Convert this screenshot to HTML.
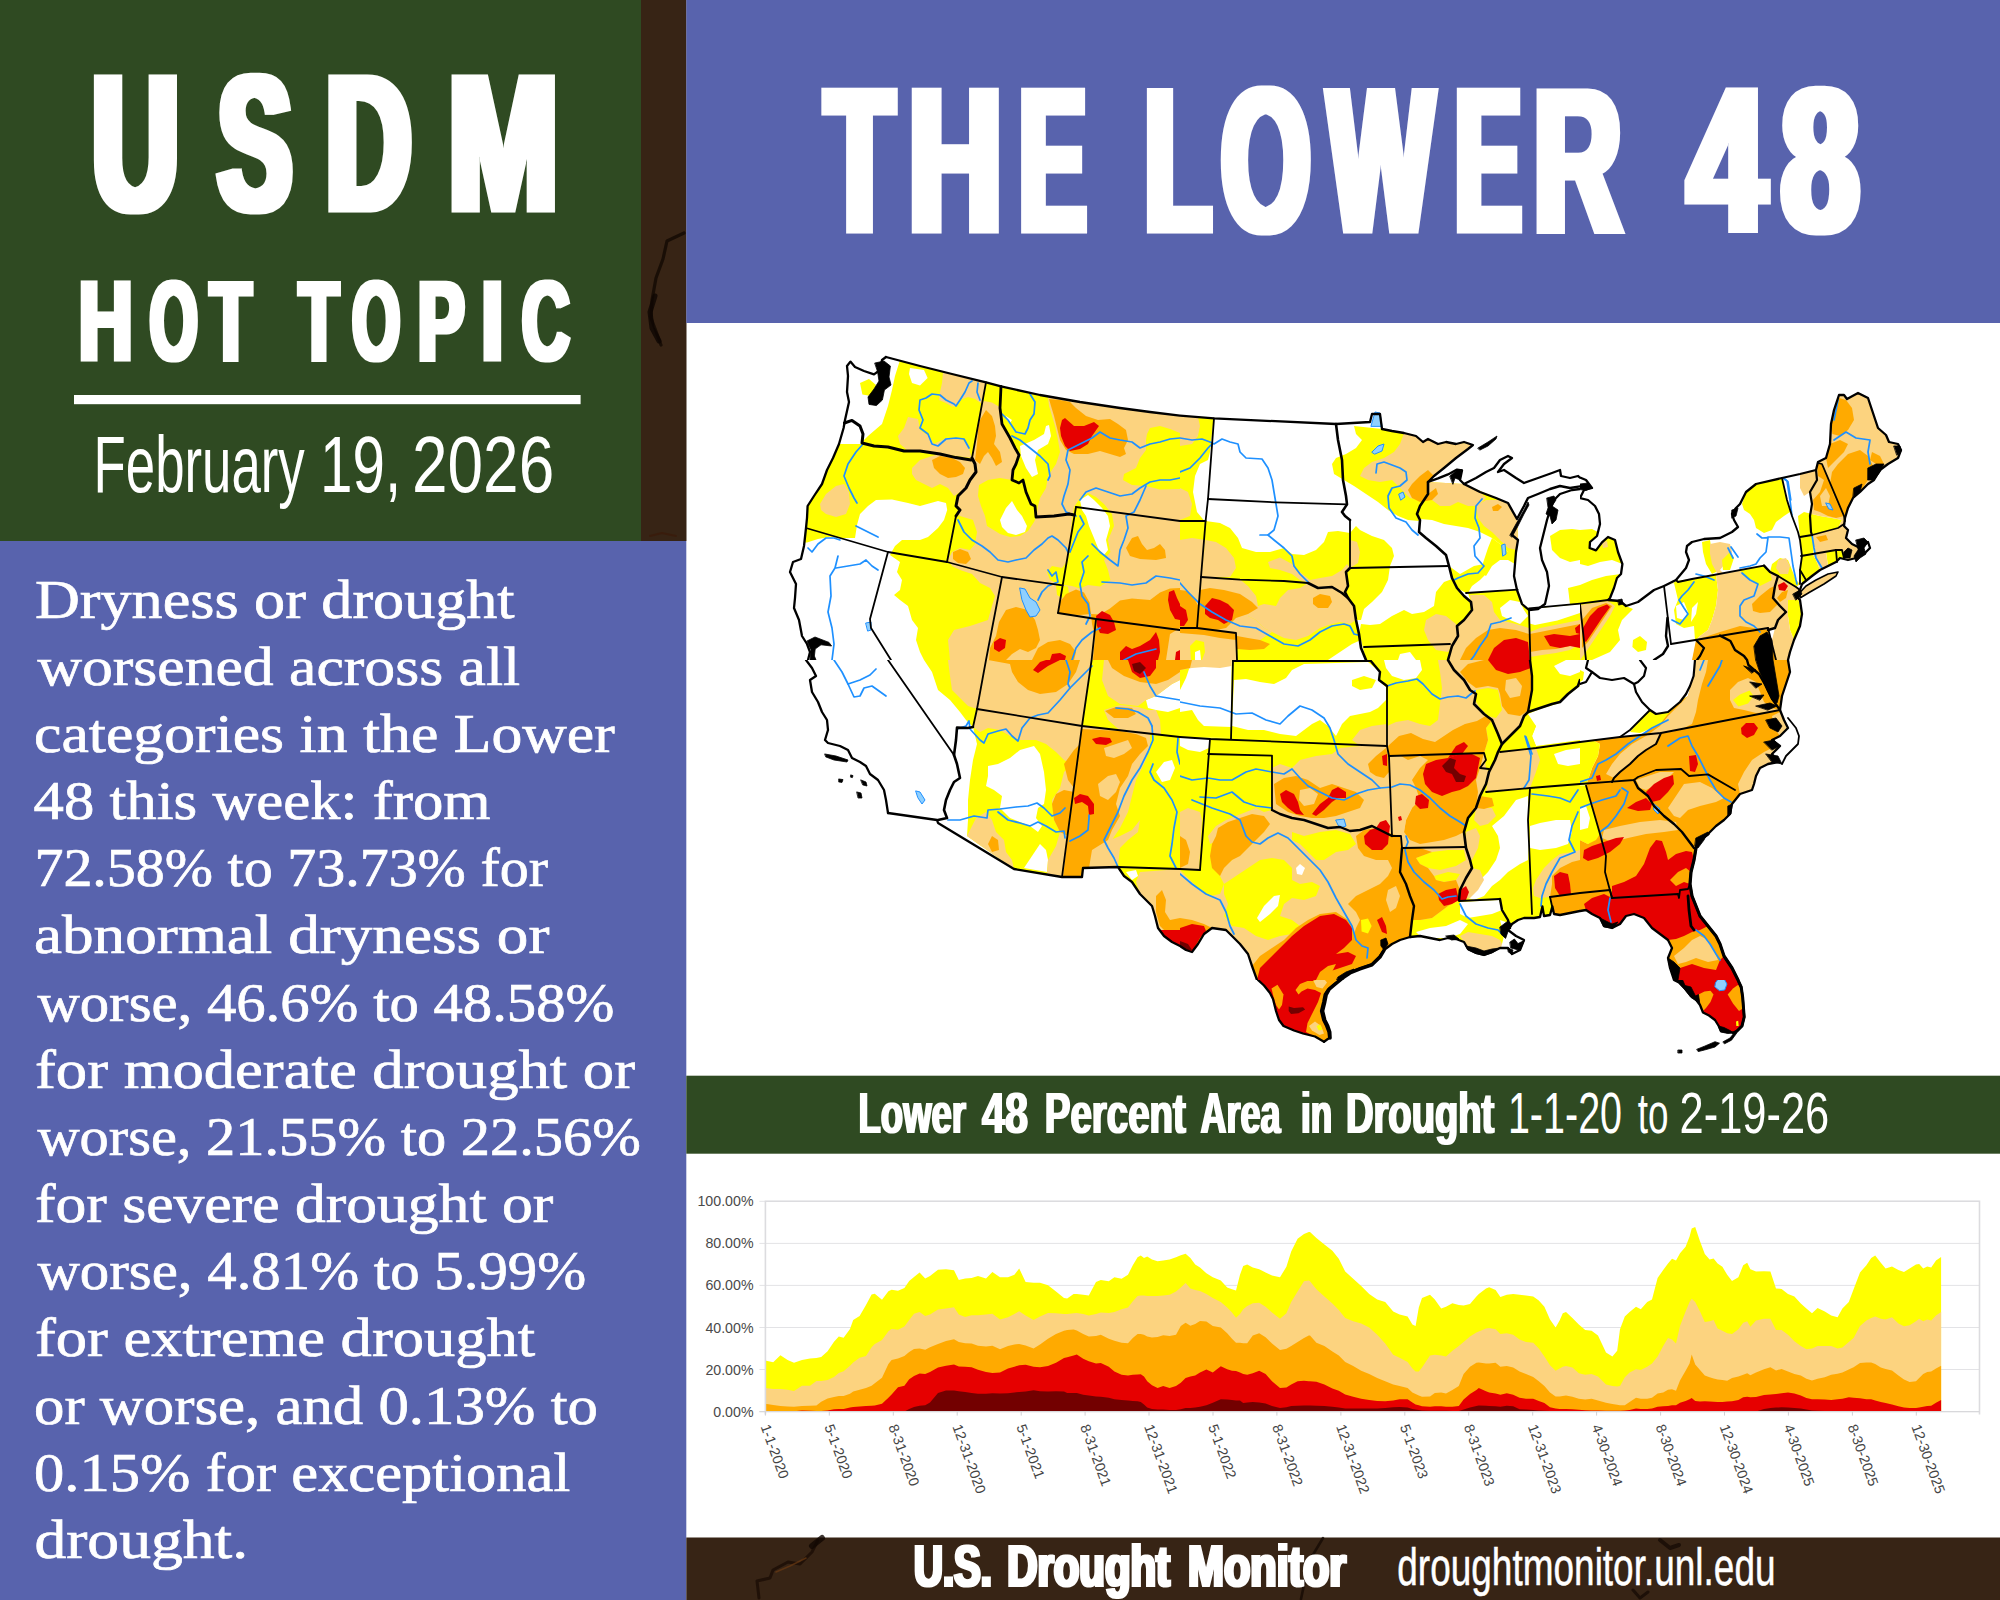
<!DOCTYPE html>
<html lang="en">
<head>
<meta charset="utf-8">
<title>USDM Hot Topic - The Lower 48 - February 19, 2026</title>
<style>
html,body{margin:0;padding:0;background:#fff;}
body{width:2000px;height:1600px;overflow:hidden;position:relative;}
svg{display:block;position:absolute;left:0;top:0;}
.sans{font-family:"Liberation Sans","DejaVu Sans",sans-serif;}
.serif{font-family:"Liberation Serif","DejaVu Serif",serif;}
</style>
</head>
<body>
<svg width="2000" height="1600" viewBox="0 0 2000 1600">
<!-- background panels -->
<rect x="0" y="0" width="2000" height="1600" fill="#ffffff"/>
<rect x="0" y="0" width="641" height="541" fill="#2f4a22"/>
<rect x="641" y="0" width="45.5" height="541" fill="#372415"/>
<rect x="0" y="541" width="686.3" height="1059" fill="#5863ad"/>
<rect x="686.3" y="0" width="1313.7" height="323" fill="#5863ad"/>
<rect x="686.3" y="1075.7" width="1313.7" height="78" fill="#2f4a22"/>
<rect x="686.3" y="1537.5" width="1313.7" height="62.5" fill="#372415"/>
<g id="deco" fill="none" stroke-linecap="round" stroke-linejoin="round">
<path d="M684 233 L667 241 L663 259 L656 278 L652 300 L651 318 L657 334 L661 345" stroke="#140a04" stroke-width="3.2" opacity="0.85"/>
<path d="M655 296 L650 312 L652 328 L659 341" stroke="#0e0603" stroke-width="5" opacity="0.8"/>
<path d="M650 536 L662 533 L676 536" stroke="#3a1a08" stroke-width="2" opacity="0.7"/>
<path d="M818 1540 L812 1552 L800 1564 L788 1562 L773 1570 L770 1578 L757 1581 L759 1598" stroke="#1c0e06" stroke-width="3" opacity="0.85"/>
<path d="M822 1538 L812 1546" stroke="#120803" stroke-width="6" opacity="0.8"/>
<path d="M806 1558 L790 1566 L776 1572" stroke="#6b3a12" stroke-width="1.6" opacity="0.7"/>
<path d="M1323 1538 L1311 1558 L1305 1580 L1301 1599" stroke="#150a04" stroke-width="2.6" opacity="0.8"/>
<path d="M1660 1540 L1670 1548 L1679 1545" stroke="#170b05" stroke-width="4" opacity="0.8"/>
<path d="M1633 1590 L1640 1598 L1648 1592" stroke="#170b05" stroke-width="3" opacity="0.8"/>
</g>

<g id="map">
<defs>
<clipPath id="usclip"><path d="M886.0 357.0 L920.0 366.0 L952.0 374.0 L986.0 382.4 L1001.0 386.4 L1040.0 395.0 L1080.0 402.0 L1120.0 408.0 L1150.0 412.0 L1180.0 415.6 L1180.0 415.6 L1214.0 418.4 L1336.0 424.0 L1370.0 422.0 L1372.0 414.0 L1380.0 414.0 L1382.0 429.0 L1392.0 431.0 L1404.0 433.0 L1416.0 436.0 L1423.0 442.0 L1428.0 439.0 L1438.0 444.0 L1446.0 442.0 L1456.0 444.0 L1464.0 442.0 L1473.0 445.0 L1468.0 449.0 L1456.0 458.0 L1444.0 468.0 L1434.0 476.0 L1428.0 482.0 L1438.0 478.4 L1448.0 474.4 L1457.0 469.6 L1462.0 470.4 L1460.0 480.0 L1464.0 484.0 L1476.0 478.0 L1486.0 472.0 L1494.0 468.0 L1500.0 460.0 L1508.0 456.0 L1512.0 458.0 L1504.0 464.0 L1498.0 472.0 L1504.0 470.0 L1516.0 478.0 L1524.0 483.0 L1538.0 478.0 L1552.0 473.0 L1560.0 470.0 L1561.0 476.0 L1570.0 478.0 L1578.0 476.0 L1580.0 477.6 L1580.0 477.6 L1586.0 480.0 L1592.0 488.0 L1584.0 490.0 L1580.0 498.0 L1588.0 500.0 L1595.0 506.0 L1599.0 514.0 L1600.0 524.0 L1597.0 536.0 L1590.0 542.0 L1589.6 548.0 L1596.0 550.4 L1602.0 542.4 L1608.0 537.0 L1615.0 540.0 L1618.0 552.0 L1622.4 564.0 L1621.0 574.0 L1617.0 578.0 L1614.0 588.0 L1610.0 598.0 L1608.0 600.0 L1620.0 601.0 L1626.0 606.0 L1638.0 602.0 L1646.0 596.0 L1654.0 590.0 L1664.0 586.0 L1676.0 580.0 L1686.0 568.0 L1689.0 560.0 L1686.0 552.0 L1687.0 546.0 L1692.0 542.0 L1704.0 539.0 L1720.0 538.0 L1732.0 532.0 L1738.0 527.0 L1734.0 520.0 L1732.0 514.0 L1736.0 508.0 L1740.0 504.0 L1746.0 492.0 L1756.0 484.0 L1782.0 478.0 L1800.0 474.0 L1816.0 470.0 L1818.0 462.0 L1826.0 458.0 L1830.0 444.0 L1831.0 424.0 L1834.0 410.0 L1839.0 395.0 L1844.0 395.0 L1847.0 399.0 L1858.0 393.0 L1868.0 398.0 L1872.0 410.0 L1878.0 428.0 L1886.0 435.0 L1889.0 442.0 L1898.0 444.0 L1901.0 450.0 L1898.0 458.0 L1888.0 464.0 L1880.0 470.0 L1874.0 480.0 L1868.0 484.0 L1860.0 492.0 L1853.0 498.0 L1848.0 508.0 L1845.0 518.0 L1844.0 526.0 L1848.0 530.0 L1846.0 538.0 L1852.0 544.0 L1860.0 548.0 L1868.0 542.0 L1870.0 548.0 L1864.0 554.0 L1856.0 558.0 L1848.0 560.0 L1840.0 558.0 L1836.0 562.0 L1828.0 566.0 L1820.0 570.0 L1812.0 576.0 L1802.0 584.0 L1800.0 590.0 L1796.0 596.0 L1800.0 600.0 L1802.0 614.0 L1800.0 626.0 L1794.0 640.0 L1790.0 652.0 L1788.0 660.0 L1788.0 660.0 L1790.0 672.0 L1786.0 684.0 L1782.0 696.0 L1780.0 710.0 L1784.0 720.0 L1788.0 728.0 L1780.0 736.0 L1772.0 740.0 L1780.0 746.0 L1772.0 754.0 L1778.0 762.0 L1768.0 764.0 L1760.0 768.0 L1756.0 776.0 L1754.0 784.0 L1752.0 790.0 L1740.0 794.0 L1732.0 804.0 L1730.0 814.0 L1724.0 820.0 L1716.0 826.0 L1708.0 834.0 L1700.0 840.0 L1696.0 848.0 L1694.0 860.0 L1691.0 872.0 L1690.0 884.0 L1692.0 896.0 L1696.0 906.0 L1700.0 916.0 L1708.0 926.0 L1716.0 936.0 L1720.0 944.0 L1724.0 956.0 L1732.0 968.0 L1738.0 980.0 L1737.9 979.9 L1741.2 987.0 L1742.7 997.5 L1743.5 1008.0 L1744.2 1017.0 L1742.0 1026.0 L1737.5 1030.5 L1733.0 1032.7 L1733.0 1032.7 L1727.7 1032.0 L1721.0 1031.2 L1718.7 1026.0 L1715.0 1020.0 L1709.0 1015.5 L1703.0 1012.5 L1700.0 1005.0 L1695.5 999.0 L1691.0 996.0 L1685.0 988.5 L1679.0 982.5 L1674.0 979.9 L1674.0 980.0 L1670.0 968.0 L1668.0 958.0 L1672.0 948.0 L1668.0 940.0 L1660.0 934.0 L1652.0 928.0 L1644.0 918.0 L1634.0 914.0 L1626.0 916.0 L1620.0 924.0 L1612.0 928.0 L1604.0 926.0 L1600.0 918.0 L1592.0 914.0 L1586.0 910.0 L1580.0 911.0 L1580.0 911.0 L1570.0 913.0 L1560.0 915.0 L1554.0 914.0 L1552.4 906.4 L1550.0 915.0 L1544.0 916.0 L1542.4 906.4 L1540.0 917.0 L1534.0 918.0 L1524.0 918.0 L1518.0 920.0 L1512.0 924.0 L1508.0 930.0 L1516.0 936.0 L1524.0 940.0 L1520.0 950.0 L1512.0 954.0 L1508.0 948.0 L1500.0 948.0 L1492.0 952.0 L1484.0 955.0 L1476.0 953.0 L1468.0 949.0 L1464.0 942.0 L1456.0 939.0 L1448.0 938.0 L1440.0 940.0 L1430.0 938.0 L1420.0 936.0 L1410.0 937.0 L1400.0 940.0 L1392.0 944.0 L1384.0 950.0 L1380.0 956.0 L1372.0 964.0 L1360.0 968.0 L1350.0 972.0 L1344.0 976.0 L1340.0 980.0 L1340.0 979.9 L1333.0 985.5 L1327.7 990.0 L1324.7 994.5 L1323.2 1002.0 L1321.0 1011.0 L1323.2 1020.0 L1326.2 1026.0 L1328.5 1032.0 L1329.2 1038.0 L1324.0 1041.7 L1324.0 1041.7 L1315.0 1036.5 L1303.0 1033.5 L1294.0 1030.5 L1283.5 1026.0 L1279.0 1020.0 L1276.0 1011.0 L1273.0 999.0 L1270.0 993.0 L1264.0 985.5 L1258.0 979.9 L1257.0 980.0 L1252.0 966.0 L1248.0 954.0 L1240.0 944.0 L1232.0 936.0 L1226.0 930.0 L1212.0 928.0 L1204.0 934.0 L1198.0 944.0 L1192.0 952.0 L1186.0 950.0 L1180.0 946.0 L1180.0 946.0 L1172.0 942.0 L1164.0 936.0 L1158.0 928.0 L1155.0 916.0 L1152.0 906.0 L1140.0 894.0 L1132.0 882.0 L1124.0 876.0 L1118.0 867.0 L1083.0 868.0 L1082.0 877.0 L1062.0 877.0 L1014.0 869.0 L938.0 823.0 L937.0 820.0 L888.0 813.0 L888.0 813.0 L886.0 800.0 L884.0 790.0 L878.0 780.0 L870.0 774.0 L866.0 766.0 L860.0 762.0 L852.0 758.0 L848.0 750.0 L840.0 746.0 L828.0 743.0 L825.0 740.0 L828.0 730.0 L827.0 720.0 L822.0 712.0 L818.0 702.0 L812.0 692.0 L810.0 680.0 L816.0 676.0 L812.0 668.0 L806.0 660.0 L808.0 660.0 L810.0 652.0 L807.0 644.0 L802.0 636.0 L799.0 620.0 L794.0 608.0 L795.0 598.0 L796.0 584.0 L790.0 572.0 L793.0 562.0 L801.0 559.0 L804.0 546.0 L806.0 528.0 L807.0 518.0 L807.6 506.0 L814.0 496.0 L822.0 484.0 L827.0 470.0 L833.0 458.0 L839.0 444.0 L843.6 428.0 L845.0 420.0 L849.0 402.0 L847.0 392.0 L848.0 376.0 L847.0 366.0 L850.4 361.6 L855.0 367.0 L864.0 371.0 L874.0 374.4 L880.0 370.0 L882.0 360.0 L886.0 357.0 Z M1800.0 598.0 L1810.0 592.0 L1824.0 584.0 L1836.0 576.0 L1838.0 572.0 L1828.0 574.0 L1816.0 580.0 L1806.0 586.0 L1800.0 592.4 Z"/></clipPath>
<clipPath id="cT11"><rect x="780.0" y="340.0" width="400.0" height="320.0"/></clipPath>
<clipPath id="cT12"><rect x="1180.0" y="340.0" width="400.0" height="320.0"/></clipPath>
<clipPath id="cT13"><rect x="1580.0" y="340.0" width="400.0" height="320.0"/></clipPath>
<clipPath id="cT21"><rect x="780.0" y="660.0" width="400.0" height="320.0"/></clipPath>
<clipPath id="cT22"><rect x="1180.0" y="660.0" width="400.0" height="320.0"/></clipPath>
<clipPath id="cT23"><rect x="1580.0" y="660.0" width="400.0" height="320.0"/></clipPath>
<clipPath id="cT32"><rect x="1180.0" y="980.0" width="300.0" height="100.0"/></clipPath>
<clipPath id="cT33"><rect x="1580.0" y="980.0" width="300.0" height="100.0"/></clipPath>
</defs>
<g clip-path="url(#usclip)">
<g clip-path="url(#cT11)">
<path d="M780.0 340.0 L1180.0 340.0 L1180.0 660.0 L780.0 660.0 Z" fill="#ffff00"/>
<path d="M900.0 360.0 L895.0 376.0 L892.0 390.0 L888.0 406.0 L882.0 424.0 L868.0 436.0 L860.0 444.0 L820.0 444.0 L820.0 340.0 L900.0 340.0 Z" fill="#ffffff"/>
<path d="M910.0 368.0 L924.0 370.0 L927.6 378.0 L920.0 385.6 L912.0 383.0 L909.0 374.0 Z" fill="#ffffff"/>
<path d="M860.0 383.0 L869.0 379.0 L876.0 385.0 L871.0 396.0 L862.4 394.4 Z" fill="#ffff00"/>
<path d="M780.0 543.0 L807.0 542.4 L818.0 539.0 L830.0 536.8 L840.0 538.0 L855.0 538.0 L857.0 525.0 L860.0 514.0 L868.0 506.0 L876.0 500.0 L892.0 499.6 L908.0 503.0 L920.0 506.0 L938.0 501.0 L946.0 503.0 L947.2 510.0 L944.0 520.0 L938.0 528.0 L928.0 537.0 L920.0 540.0 L902.0 540.0 L895.0 546.0 L890.0 555.0 L900.0 562.0 L897.0 572.0 L902.0 580.0 L900.0 590.0 L894.0 595.0 L900.0 600.0 L908.0 606.0 L912.0 620.0 L918.0 628.0 L916.0 640.0 L920.0 652.0 L924.0 660.0 L780.0 660.0 Z" fill="#ffffff"/>
<path d="M943.0 372.0 L942.0 383.0 L940.0 392.0 L939.0 400.0 L946.0 403.0 L952.0 406.4 L957.0 406.0 L960.0 400.0 L968.0 397.0 L975.0 399.0 L982.0 404.0 L986.0 382.4 Z" fill="#fcd37f"/>
<path d="M898.0 436.0 L904.0 428.0 L908.0 417.0 L918.0 419.0 L920.0 430.0 L929.0 436.0 L934.0 444.0 L946.0 438.0 L960.0 438.0 L968.0 444.0 L971.6 458.0 L940.0 454.0 L920.0 451.0 L908.0 451.0 L900.0 444.0 Z" fill="#fcd37f"/>
<path d="M912.0 468.0 L920.0 460.0 L932.0 456.0 L940.0 454.0 L971.0 460.0 L975.0 464.0 L976.0 472.0 L970.0 480.0 L966.0 488.0 L960.0 492.0 L954.0 496.0 L948.0 488.0 L940.0 484.0 L932.0 488.0 L924.0 484.0 L916.0 480.0 L912.0 474.0 Z" fill="#fcd37f"/>
<path d="M820.0 504.0 L826.0 494.0 L836.0 486.0 L844.0 484.0 L849.0 492.0 L850.0 504.0 L846.0 514.0 L836.0 517.0 L826.0 514.0 L821.0 510.0 Z" fill="#fcd37f"/>
<path d="M982.0 404.0 L984.0 401.0 L992.0 402.4 L999.6 407.0 L1000.0 408.0 L1002.0 424.0 L1010.0 438.0 L1015.0 448.0 L1019.0 455.0 L1016.0 464.0 L1013.0 470.0 L1012.0 480.0 L1000.0 478.0 L988.0 480.0 L979.0 485.0 L978.0 496.0 L981.0 506.0 L985.0 516.0 L987.0 526.0 L992.0 529.0 L1000.0 534.0 L1010.0 537.0 L1020.0 536.0 L1028.0 531.0 L1034.0 522.0 L1036.4 517.0 L1038.0 506.0 L1040.0 498.0 L1046.0 488.0 L1048.0 476.0 L1056.0 464.0 L1060.0 452.0 L1058.0 440.0 L1055.0 426.0 L1052.0 416.0 L1049.0 406.0 L1048.0 397.0 L1180.0 415.6 L1180.0 660.0 L950.0 660.0 L948.0 640.0 L954.0 630.0 L970.0 626.0 L988.0 620.0 L992.0 606.0 L995.0 596.0 L990.0 588.0 L980.0 583.0 L972.0 574.0 L960.0 570.0 L952.0 566.0 L948.0 560.0 L952.0 552.0 L960.0 548.0 L970.0 550.0 L975.0 544.0 L977.0 532.0 L973.0 520.0 L960.0 516.0 L957.0 514.0 L960.0 510.0 L956.0 506.0 L958.0 496.0 L966.0 488.0 L970.0 480.0 L976.0 472.0 L975.0 464.0 L972.0 458.0 Z" fill="#fcd37f"/>
<path d="M1000.0 520.0 L1006.0 508.0 L1012.0 501.0 L1017.0 510.0 L1022.0 516.0 L1027.0 526.0 L1025.0 532.0 L1016.0 535.0 L1008.0 533.0 L1002.0 527.0 Z" fill="#ffffff"/>
<path d="M1020.0 446.0 L1034.0 440.0 L1044.0 434.0 L1046.0 426.0 L1049.0 425.0 L1051.0 436.0 L1048.0 444.0 L1038.0 450.0 L1035.0 460.0 L1038.0 474.0 L1032.0 477.0 L1026.0 468.0 L1021.0 456.0 Z" fill="#ffffff"/>
<path d="M1006.0 416.0 L1012.0 420.0 L1010.0 423.0 L1007.0 420.0 Z" fill="#ffffff"/>
<path d="M1147.0 434.0 L1150.0 428.0 L1160.0 426.0 L1170.0 429.0 L1180.0 433.0 L1180.0 489.0 L1160.0 489.6 L1146.0 486.0 L1132.0 485.0 L1123.0 480.0 L1124.0 474.0 L1136.0 468.0 L1140.0 458.0 L1146.0 450.0 L1146.0 440.0 Z" fill="#ffff00"/>
<path d="M1074.0 507.0 L1080.0 498.0 L1088.0 493.0 L1096.0 497.0 L1104.0 504.0 L1112.0 514.0 L1114.0 526.0 L1108.0 540.0 L1110.4 552.0 L1104.0 560.0 L1108.0 570.0 L1110.4 580.0 L1100.0 586.4 L1088.0 585.0 L1080.0 588.4 L1072.0 586.0 L1060.0 584.4 L1050.0 580.0 L1047.0 572.0 L1052.0 566.0 L1062.0 568.0 L1068.0 560.0 L1070.0 540.0 L1072.0 520.0 Z" fill="#ffff00"/>
<path d="M1056.0 585.0 L1068.0 586.4 L1069.0 594.0 L1062.0 598.0 L1057.0 595.0 Z" fill="#ffff00"/>
<path d="M1080.0 500.0 L1088.0 495.0 L1094.0 500.0 L1102.0 508.0 L1108.0 516.0 L1110.0 526.0 L1106.0 540.0 L1108.0 550.0 L1104.0 555.0 L1098.0 548.0 L1094.0 538.0 L1089.0 526.0 L1086.0 516.0 L1082.0 510.0 Z" fill="#ffffff"/>
<path d="M980.0 420.0 L986.0 410.0 L992.0 416.0 L995.0 426.0 L996.0 436.0 L994.0 444.0 L1000.0 452.0 L1002.0 462.0 L996.0 466.0 L992.0 458.0 L988.0 452.0 L984.0 456.0 L980.0 464.0 L975.0 460.0 L977.0 444.0 L978.0 430.0 Z" fill="#ffaa00"/>
<path d="M932.0 460.0 L940.0 456.0 L952.0 458.0 L960.0 462.0 L965.0 468.0 L963.0 474.0 L956.0 477.0 L948.0 478.0 L940.0 474.0 L934.0 468.0 Z" fill="#ffaa00"/>
<path d="M1049.0 399.0 L1060.0 400.0 L1070.0 402.0 L1076.0 408.0 L1086.0 416.0 L1098.0 420.0 L1110.0 419.0 L1118.0 424.0 L1126.0 430.0 L1128.0 440.0 L1124.0 448.0 L1126.0 454.0 L1120.0 457.0 L1110.0 454.0 L1100.0 451.0 L1088.0 454.0 L1074.0 454.0 L1066.0 450.0 L1060.0 440.0 L1057.0 428.0 L1054.0 416.0 L1051.0 406.0 Z" fill="#ffaa00"/>
<path d="M953.0 552.0 L960.0 549.0 L968.0 552.0 L971.0 559.0 L966.0 564.0 L958.0 563.0 L953.0 559.0 Z" fill="#ffaa00"/>
<path d="M1126.0 548.0 L1132.0 538.0 L1138.0 536.0 L1142.0 544.0 L1147.0 550.0 L1154.0 548.0 L1160.0 544.0 L1165.0 550.0 L1166.0 558.0 L1156.0 560.0 L1140.0 559.0 L1130.0 556.0 Z" fill="#ffaa00"/>
<path d="M989.0 660.0 L990.0 648.0 L996.0 636.0 L999.0 622.0 L1006.0 610.0 L1016.0 607.0 L1028.0 610.0 L1035.0 620.0 L1038.0 630.0 L1040.0 640.0 L1036.0 648.0 L1028.0 652.0 L1020.0 649.0 L1012.0 654.0 L1006.0 660.0 Z" fill="#ffaa00"/>
<path d="M1060.0 602.0 L1066.0 594.0 L1076.0 589.6 L1084.0 592.4 L1089.6 602.4 L1091.0 614.0 L1080.0 615.0 L1068.0 614.4 L1059.0 613.0 Z" fill="#ffaa00"/>
<path d="M1091.0 614.0 L1100.0 614.4 L1110.0 608.4 L1120.0 600.4 L1132.0 598.4 L1150.0 600.0 L1160.0 592.4 L1170.0 588.4 L1180.0 588.0 L1180.0 628.0 L1170.0 634.0 L1166.0 660.0 L1093.0 660.0 L1095.0 636.0 L1092.0 624.0 Z" fill="#ffaa00"/>
<path d="M1032.0 660.0 L1038.0 648.0 L1048.0 642.0 L1060.0 640.0 L1070.0 644.0 L1076.0 652.0 L1074.0 660.0 Z" fill="#ffaa00"/>
<path d="M1062.0 420.0 L1065.0 418.0 L1074.0 426.0 L1084.0 426.0 L1094.0 422.0 L1099.0 426.0 L1092.0 436.0 L1088.0 444.0 L1080.0 449.0 L1070.0 451.0 L1065.0 446.0 L1061.0 436.0 L1060.0 428.0 Z" fill="#e60000"/>
<path d="M1169.0 592.0 L1174.0 590.0 L1177.0 598.0 L1180.0 604.0 L1180.0 620.0 L1175.0 619.0 L1170.0 610.0 L1168.0 600.0 Z" fill="#e60000"/>
<path d="M1096.0 616.0 L1102.0 611.0 L1110.0 615.0 L1114.0 622.0 L1116.0 630.0 L1108.0 634.0 L1100.0 633.0 L1097.0 626.0 Z" fill="#e60000"/>
<path d="M1120.0 652.0 L1126.0 646.0 L1132.0 649.0 L1140.0 646.0 L1150.0 640.0 L1156.0 632.0 L1159.0 640.0 L1160.0 652.0 L1158.0 660.0 L1120.0 660.0 Z" fill="#e60000"/>
<path d="M994.0 642.0 L1000.0 638.0 L1006.0 640.0 L1005.0 648.0 L999.0 652.0 L994.0 649.0 Z" fill="#e60000"/>
<path d="M1052.0 654.0 L1060.0 653.0 L1066.0 656.0 L1065.0 660.0 L1050.0 660.0 Z" fill="#e60000"/>
<path d="M1176.0 652.0 L1180.0 650.0 L1180.0 660.0 L1175.0 660.0 Z" fill="#e60000"/>
</g>
<g clip-path="url(#cT12)">
<path d="M1180.0 340.0 L1580.0 340.0 L1580.0 660.0 L1180.0 660.0 Z" fill="#ffffff"/>
<path d="M1180.0 416.0 L1213.6 418.4 L1210.0 452.0 L1208.0 460.0 L1200.0 464.0 L1195.0 476.0 L1193.0 492.0 L1197.0 512.0 L1204.0 520.4 L1180.0 520.4 Z" fill="#ffff00"/>
<path d="M1180.0 416.0 L1198.0 417.0 L1200.0 426.0 L1198.0 436.0 L1192.0 444.0 L1180.0 446.0 Z" fill="#fcd37f"/>
<path d="M1180.0 488.0 L1188.0 492.0 L1192.0 504.0 L1190.0 516.0 L1180.0 520.0 Z" fill="#fcd37f"/>
<path d="M1205.6 521.0 L1220.0 523.0 L1230.0 528.0 L1238.0 538.0 L1242.0 548.0 L1256.0 552.0 L1270.0 552.0 L1284.0 548.0 L1292.0 554.0 L1304.0 555.0 L1316.0 550.0 L1324.0 542.0 L1328.0 532.0 L1338.0 531.0 L1350.0 533.0 L1350.0 568.0 L1346.0 572.0 L1348.0 586.0 L1345.0 592.0 L1348.0 598.0 L1354.0 606.0 L1356.0 620.0 L1359.0 634.0 L1361.0 648.0 L1366.0 660.0 L1180.0 660.0 L1180.0 521.0 Z" fill="#ffff00"/>
<path d="M1350.0 533.0 L1356.0 526.0 L1360.0 530.0 L1372.0 536.0 L1384.0 540.0 L1392.0 548.0 L1394.0 556.0 L1390.0 566.0 L1388.0 580.0 L1382.0 592.0 L1372.0 602.0 L1364.0 609.0 L1361.0 620.0 L1357.0 620.0 L1354.0 606.0 L1348.0 598.0 L1345.0 592.0 L1348.0 586.0 L1346.0 572.0 L1350.0 568.0 Z" fill="#ffff00"/>
<path d="M1359.0 634.0 L1361.0 624.0 L1370.0 625.0 L1380.0 624.0 L1392.0 616.0 L1404.0 610.0 L1412.0 614.0 L1424.0 612.0 L1434.0 606.0 L1436.0 592.0 L1444.0 582.0 L1452.0 579.0 L1457.0 588.0 L1464.0 596.0 L1471.0 602.0 L1472.0 610.0 L1464.0 620.0 L1457.0 626.0 L1458.0 636.0 L1452.0 646.0 L1448.0 660.0 L1366.0 660.0 L1361.0 648.0 Z" fill="#ffff00"/>
<path d="M1400.0 654.0 L1410.0 652.0 L1416.0 660.0 L1398.0 660.0 Z" fill="#ffffff"/>
<path d="M1328.0 660.0 L1340.0 652.0 L1352.0 644.0 L1361.0 640.0 L1363.0 648.0 L1366.0 660.0 Z" fill="#ffffff"/>
<path d="M1354.0 426.0 L1382.0 429.0 L1473.0 445.0 L1428.0 482.0 L1428.0 494.0 L1420.0 506.0 L1417.0 514.0 L1419.0 521.0 L1408.0 520.0 L1398.0 516.0 L1388.0 510.0 L1378.0 502.0 L1366.0 494.0 L1354.0 486.0 L1344.0 480.0 L1334.0 474.0 L1332.0 464.0 L1336.0 458.0 L1346.0 454.0 L1356.0 448.0 L1362.0 440.0 L1356.0 434.0 Z" fill="#ffff00"/>
<path d="M1428.0 482.0 L1464.0 484.0 L1508.0 503.0 L1517.0 519.0 L1518.0 540.0 L1516.0 552.0 L1508.0 552.0 L1500.0 544.0 L1492.0 538.0 L1480.0 532.0 L1468.0 528.0 L1456.0 526.0 L1444.0 524.0 L1432.0 520.0 L1420.0 519.0 L1417.0 514.0 L1420.0 506.0 L1428.0 494.0 Z" fill="#ffff00"/>
<path d="M1492.0 538.0 L1500.0 544.0 L1508.0 552.0 L1516.0 552.0 L1515.0 564.0 L1508.0 560.0 L1500.0 560.0 L1492.0 566.0 L1486.0 576.0 L1480.0 572.0 L1484.0 560.0 L1488.0 548.0 Z" fill="#ffff00"/>
<path d="M1449.0 566.0 L1460.0 574.0 L1474.0 566.0 L1484.0 564.0 L1488.0 572.0 L1480.0 580.0 L1472.0 586.0 L1468.0 593.0 L1466.0 593.0 L1457.0 588.0 L1452.0 578.0 Z" fill="#ffff00"/>
<path d="M1468.0 593.0 L1518.0 589.6 L1522.0 604.0 L1529.0 610.0 L1530.0 660.0 L1448.0 660.0 L1452.0 646.0 L1458.0 636.0 L1457.0 626.0 L1464.0 620.0 L1472.0 610.0 L1471.0 602.0 Z" fill="#ffff00"/>
<path d="M1500.0 608.0 L1510.0 600.0 L1520.0 602.0 L1524.0 610.0 L1528.0 616.0 L1520.0 624.0 L1510.0 620.0 L1502.0 616.0 Z" fill="#ffffff"/>
<path d="M1550.0 536.0 L1560.0 530.0 L1572.0 529.0 L1580.0 530.0 L1580.0 560.0 L1570.0 562.0 L1560.0 558.0 L1552.0 550.0 Z" fill="#ffff00"/>
<path d="M1529.0 608.4 L1580.0 603.6 L1580.0 660.0 L1530.0 660.0 Z" fill="#ffff00"/>
<path d="M1568.0 588.0 L1580.0 585.0 L1580.0 603.6 L1570.0 604.4 Z" fill="#ffff00"/>
<path d="M1529.0 609.0 L1550.0 607.0 L1580.0 604.0 L1580.0 613.0 L1557.4 620.4 L1535.0 625.0 L1529.6 623.4 Z" fill="#ffffff"/>
<path d="M1404.0 433.0 L1473.0 445.0 L1428.0 482.0 L1428.0 494.0 L1420.0 500.0 L1410.0 498.0 L1400.0 488.0 L1392.0 480.0 L1380.0 482.0 L1368.0 480.0 L1360.0 476.0 L1364.0 468.0 L1372.0 462.0 L1384.0 458.0 L1394.0 452.0 L1400.0 444.0 Z" fill="#fcd37f"/>
<path d="M1428.0 482.0 L1464.0 484.0 L1480.0 492.0 L1486.0 498.0 L1478.0 506.0 L1468.0 506.0 L1458.0 502.0 L1450.0 506.0 L1440.0 506.0 L1432.0 500.0 L1428.0 494.0 Z" fill="#fcd37f"/>
<path d="M1476.0 506.0 L1486.0 500.0 L1500.0 500.0 L1508.0 503.0 L1517.0 519.0 L1518.0 540.0 L1516.0 550.0 L1508.0 548.0 L1500.0 540.0 L1492.0 532.0 L1484.0 526.0 L1478.0 518.0 Z" fill="#fcd37f"/>
<path d="M1350.0 540.0 L1357.0 542.0 L1360.0 552.0 L1358.0 563.0 L1350.0 568.0 Z" fill="#fcd37f"/>
<path d="M1205.6 540.0 L1216.0 542.0 L1226.0 548.0 L1234.0 558.0 L1236.0 568.0 L1230.0 577.0 L1201.0 577.0 Z" fill="#fcd37f"/>
<path d="M1268.0 562.0 L1280.0 557.6 L1292.0 564.0 L1300.0 572.0 L1310.0 580.0 L1320.0 578.0 L1332.0 576.0 L1342.0 570.0 L1347.0 564.0 L1350.0 568.0 L1346.0 572.0 L1348.0 586.0 L1345.0 592.0 L1348.0 598.0 L1354.0 606.0 L1356.0 620.0 L1350.0 624.0 L1340.0 622.0 L1332.0 624.0 L1320.0 628.0 L1308.0 636.0 L1296.0 640.0 L1284.0 638.0 L1272.0 632.0 L1264.0 628.0 L1256.0 620.0 L1248.0 616.0 L1252.0 608.0 L1264.0 604.0 L1276.0 606.0 L1280.0 598.0 L1288.0 590.0 L1300.0 588.0 L1308.0 583.0 L1300.0 580.0 L1292.0 574.0 L1280.0 570.0 L1270.0 568.0 Z" fill="#fcd37f"/>
<path d="M1180.0 540.0 L1192.0 538.0 L1205.6 540.0 L1201.0 577.0 L1240.0 579.6 L1248.0 586.0 L1256.0 596.0 L1258.0 606.0 L1248.0 616.0 L1256.0 620.0 L1264.0 628.0 L1272.0 632.0 L1260.0 640.0 L1246.0 644.0 L1237.0 640.0 L1237.0 660.0 L1180.0 660.0 Z" fill="#fcd37f"/>
<path d="M1190.0 646.0 L1196.0 640.0 L1204.0 642.0 L1205.0 652.0 L1202.0 660.0 L1191.0 660.0 Z" fill="#ffff00"/>
<path d="M1195.0 652.0 L1200.0 650.0 L1201.0 660.0 L1195.0 660.0 Z" fill="#ffffff"/>
<path d="M1426.0 620.0 L1436.0 614.0 L1446.0 616.0 L1456.0 624.0 L1458.0 636.0 L1452.0 646.0 L1448.0 652.0 L1436.0 650.0 L1428.0 640.0 L1424.0 630.0 Z" fill="#fcd37f"/>
<path d="M1470.0 595.0 L1484.0 595.0 L1492.0 602.0 L1494.0 612.0 L1500.0 620.0 L1516.0 624.0 L1529.0 628.0 L1530.0 660.0 L1448.0 660.0 L1452.0 646.0 L1458.0 636.0 L1457.0 626.0 L1464.0 620.0 L1472.0 610.0 L1471.0 602.0 Z" fill="#fcd37f"/>
<path d="M1530.0 632.0 L1540.0 628.0 L1560.0 624.0 L1580.0 620.0 L1580.0 644.0 L1570.0 650.0 L1556.0 653.0 L1542.0 655.0 L1530.0 657.0 Z" fill="#fcd37f"/>
<path d="M1412.0 484.0 L1420.0 476.0 L1428.0 470.0 L1434.0 476.0 L1428.0 482.0 L1428.0 494.0 L1436.0 488.0 L1438.0 494.0 L1432.0 500.0 L1420.0 502.0 L1412.0 498.0 L1408.0 490.0 Z" fill="#ffaa00"/>
<path d="M1313.0 598.0 L1320.0 594.0 L1330.0 596.0 L1332.0 602.0 L1328.0 608.0 L1318.0 608.0 L1313.0 604.0 Z" fill="#ffaa00"/>
<path d="M1200.0 590.0 L1210.0 588.0 L1224.0 590.0 L1240.0 594.0 L1252.0 602.0 L1258.0 608.0 L1248.0 614.0 L1236.0 618.0 L1226.0 628.0 L1216.0 630.0 L1197.0 628.0 L1180.0 628.0 L1180.0 590.0 L1188.0 591.0 L1195.0 600.0 L1198.4 606.0 Z" fill="#ffaa00"/>
<path d="M1237.0 636.0 L1248.0 638.0 L1260.0 640.0 L1270.0 644.0 L1264.0 649.0 L1250.0 650.0 L1237.0 649.0 Z" fill="#ffaa00"/>
<path d="M1180.0 628.0 L1197.0 628.0 L1236.0 633.0 L1236.4 640.0 L1220.0 638.0 L1204.0 635.0 L1180.0 633.0 Z" fill="#ffaa00"/>
<path d="M1460.0 660.0 L1466.0 648.0 L1476.0 638.0 L1488.0 630.0 L1500.0 628.0 L1516.0 630.0 L1529.0 634.0 L1530.0 660.0 Z" fill="#ffaa00"/>
<path d="M1529.6 634.0 L1540.0 632.0 L1560.0 628.0 L1580.0 624.0 L1580.0 640.0 L1570.0 646.0 L1556.0 649.0 L1542.0 650.0 L1530.0 652.0 Z" fill="#ffaa00"/>
<path d="M1492.0 507.0 L1498.0 504.0 L1502.0 507.0 L1498.0 511.0 L1493.0 511.0 Z" fill="#ffaa00"/>
<path d="M1205.0 606.0 L1212.0 598.0 L1220.0 600.0 L1228.0 604.0 L1234.0 610.0 L1232.0 620.0 L1224.0 624.0 L1218.0 620.0 L1210.0 618.0 L1205.0 614.0 Z" fill="#e60000"/>
<path d="M1180.0 606.0 L1186.0 610.0 L1188.0 620.0 L1184.0 626.0 L1180.0 626.0 Z" fill="#e60000"/>
<path d="M1488.0 660.0 L1494.0 648.0 L1504.0 640.0 L1516.0 638.0 L1528.0 642.0 L1530.0 660.0 Z" fill="#e60000"/>
<path d="M1544.0 636.0 L1554.0 634.0 L1570.0 636.0 L1580.0 634.0 L1580.0 648.0 L1570.0 646.0 L1560.0 648.0 L1550.0 646.0 Z" fill="#e60000"/>
<path d="M1575.0 628.0 L1580.0 624.0 L1580.0 634.0 L1576.0 633.0 Z" fill="#e60000"/>
<path d="M1528.0 498.0 L1524.0 510.0 L1520.0 520.0 L1518.0 540.0 L1516.0 552.0 L1515.0 564.0 L1514.0 576.0 L1517.0 590.0 L1522.0 604.0 L1529.0 610.0 L1538.0 609.0 L1545.0 604.0 L1549.0 586.0 L1547.0 572.0 L1542.0 560.0 L1540.0 548.0 L1543.0 536.0 L1547.0 520.0 L1550.0 510.0 L1554.0 500.0 L1560.0 494.0 L1572.0 490.0 L1580.0 489.0 L1580.0 487.0 L1570.0 488.0 L1560.0 486.0 L1550.0 489.0 L1538.0 494.0 Z" fill="#ffffff"/>
</g>
<g clip-path="url(#cT13)">
<path d="M1580.0 340.0 L1980.0 340.0 L1980.0 660.0 L1580.0 660.0 Z" fill="#ffffff"/>
<path d="M1580.0 530.0 L1592.0 529.0 L1598.0 532.0 L1597.0 536.0 L1590.0 542.0 L1589.6 548.0 L1596.0 550.4 L1602.0 542.4 L1608.0 537.0 L1615.0 540.0 L1618.0 552.0 L1622.4 564.0 L1612.0 560.0 L1600.0 562.0 L1588.0 566.0 L1580.0 564.0 Z" fill="#ffff00"/>
<path d="M1580.0 585.0 L1592.0 580.0 L1606.0 576.0 L1621.0 574.0 L1617.0 578.0 L1614.0 588.0 L1610.0 598.0 L1608.0 600.0 L1580.0 603.6 Z" fill="#ffff00"/>
<path d="M1580.0 604.0 L1608.0 600.0 L1620.0 601.0 L1627.0 606.4 L1633.0 609.0 L1622.0 620.0 L1618.0 630.0 L1620.0 640.0 L1610.0 652.0 L1592.0 660.0 L1580.0 660.0 Z" fill="#ffff00"/>
<path d="M1633.0 640.0 L1640.0 636.0 L1647.0 642.0 L1646.0 650.0 L1638.0 652.0 L1632.4 647.0 Z" fill="#ffff00"/>
<path d="M1746.0 492.0 L1756.0 484.0 L1782.0 478.0 L1787.0 500.0 L1790.0 512.0 L1784.0 516.0 L1776.0 522.0 L1772.0 530.0 L1764.0 533.0 L1756.0 528.0 L1754.0 520.0 L1750.0 514.0 L1744.0 510.0 L1742.0 504.0 Z" fill="#ffff00"/>
<path d="M1702.0 542.0 L1710.0 540.0 L1712.0 552.0 L1716.0 560.0 L1720.0 570.0 L1712.0 574.0 L1706.0 564.0 L1703.0 552.0 Z" fill="#ffff00"/>
<path d="M1772.0 564.0 L1780.0 558.0 L1788.0 560.0 L1792.0 570.0 L1796.0 580.0 L1800.0 584.0 L1796.0 587.0 L1778.0 576.0 L1770.0 572.0 Z" fill="#ffff00"/>
<path d="M1798.0 516.0 L1804.0 512.0 L1812.0 514.0 L1820.0 516.0 L1832.0 518.0 L1842.0 520.0 L1838.0 528.0 L1812.0 535.0 L1800.0 537.0 L1799.0 528.0 Z" fill="#ffff00"/>
<path d="M1800.0 537.0 L1812.0 535.0 L1814.0 546.0 L1813.0 555.0 L1816.0 560.0 L1820.0 570.0 L1812.0 576.0 L1802.0 584.0 L1800.0 570.0 L1802.0 556.0 Z" fill="#ffff00"/>
<path d="M1826.0 552.0 L1836.0 550.0 L1842.0 550.0 L1844.0 558.0 L1840.0 558.0 L1836.0 562.0 L1828.0 566.0 Z" fill="#ffff00"/>
<path d="M1666.0 588.0 L1676.0 581.0 L1692.0 579.0 L1716.0 575.0 L1718.0 590.0 L1716.0 606.0 L1712.0 620.0 L1708.0 630.0 L1700.0 636.0 L1696.0 640.0 L1671.0 644.0 Z" fill="#ffff00"/>
<path d="M1676.0 606.0 L1684.0 602.0 L1688.0 612.0 L1684.0 620.0 L1677.0 618.0 Z" fill="#ffffff"/>
<path d="M1665.0 587.0 L1674.0 583.0 L1678.0 600.0 L1674.0 610.0 L1676.0 624.0 L1684.0 628.0 L1694.0 626.0 L1695.0 640.0 L1671.0 644.0 Z" fill="#ffffff"/>
<path d="M1692.0 608.0 L1698.0 602.0 L1696.0 614.0 L1691.0 622.0 Z" fill="#ffffff"/>
<path d="M1788.0 600.0 L1798.0 598.0 L1802.0 614.0 L1800.0 626.0 L1794.0 640.0 L1790.0 630.0 L1788.0 616.0 Z" fill="#ffff00"/>
<path d="M1580.0 605.0 L1608.0 601.0 L1615.0 606.0 L1610.0 616.0 L1602.0 628.0 L1594.0 640.0 L1586.0 652.0 L1580.0 660.0 Z" fill="#fcd37f"/>
<path d="M1710.0 544.0 L1720.0 542.0 L1730.0 544.0 L1732.0 552.0 L1728.0 560.0 L1720.0 570.0 L1724.0 574.0 L1718.0 575.0 L1712.0 564.0 L1710.0 554.0 Z" fill="#fcd37f"/>
<path d="M1722.0 560.0 L1730.0 552.0 L1734.0 558.0 L1730.0 570.0 L1723.0 570.0 Z" fill="#ffff00"/>
<path d="M1716.0 575.0 L1732.0 572.0 L1764.0 565.6 L1770.0 572.0 L1778.0 576.0 L1775.0 586.0 L1773.0 598.0 L1780.0 606.0 L1786.0 612.0 L1778.0 620.0 L1775.0 628.0 L1768.0 630.0 L1696.0 640.0 L1700.0 636.0 L1708.0 630.0 L1712.0 620.0 L1716.0 606.0 L1718.0 590.0 Z" fill="#fcd37f"/>
<path d="M1740.0 570.0 L1764.0 565.6 L1770.0 572.0 L1772.0 580.0 L1760.0 586.0 L1752.0 580.0 L1744.0 576.0 Z" fill="#ffff00"/>
<path d="M1778.0 576.0 L1796.0 587.0 L1800.0 590.0 L1796.0 596.0 L1800.0 600.0 L1788.0 600.0 L1788.0 616.0 L1790.0 630.0 L1794.0 640.0 L1790.0 652.0 L1788.0 660.0 L1776.0 660.0 L1772.0 640.0 L1775.0 628.0 L1778.0 620.0 L1786.0 612.0 L1780.0 606.0 L1773.0 598.0 L1775.0 586.0 Z" fill="#fcd37f"/>
<path d="M1778.0 560.0 L1786.0 558.0 L1790.0 566.0 L1788.0 574.0 L1780.0 574.0 L1776.0 568.0 Z" fill="#fcd37f"/>
<path d="M1800.0 474.0 L1816.0 470.0 L1818.0 462.0 L1826.0 458.0 L1830.0 444.0 L1831.0 424.0 L1834.0 410.0 L1839.0 395.0 L1844.0 395.0 L1847.0 399.0 L1858.0 393.0 L1868.0 398.0 L1872.0 410.0 L1878.0 428.0 L1886.0 435.0 L1889.0 442.0 L1898.0 444.0 L1901.0 450.0 L1898.0 458.0 L1888.0 464.0 L1880.0 470.0 L1874.0 480.0 L1868.0 484.0 L1860.0 492.0 L1853.0 498.0 L1848.0 508.0 L1845.0 518.0 L1844.0 526.0 L1848.0 530.0 L1846.0 538.0 L1852.0 544.0 L1860.0 548.0 L1856.0 558.0 L1848.0 560.0 L1842.0 550.0 L1836.0 550.0 L1826.0 552.0 L1816.0 554.0 L1814.0 546.0 L1812.0 535.0 L1838.0 528.0 L1842.0 520.0 L1832.0 518.0 L1820.0 516.0 L1812.0 514.0 L1810.0 516.0 L1812.0 504.0 L1810.0 492.0 L1804.0 496.0 L1800.0 488.0 Z" fill="#fcd37f"/>
<path d="M1813.0 555.0 L1826.0 552.0 L1828.0 566.0 L1820.0 570.0 L1816.0 560.0 Z" fill="#fcd37f"/>
<path d="M1800.0 598.0 L1810.0 592.0 L1824.0 584.0 L1836.0 576.0 L1838.0 572.0 L1828.0 574.0 L1816.0 580.0 L1806.0 586.0 L1800.0 592.4 Z" fill="#fcd37f"/>
<path d="M1602.0 542.4 L1607.0 541.0 L1608.0 547.0 L1603.0 548.0 Z" fill="#fcd37f"/>
<path d="M1582.0 620.0 L1592.0 608.0 L1606.0 603.0 L1612.0 606.0 L1604.0 618.0 L1596.0 630.0 L1588.0 642.0 L1582.0 648.0 Z" fill="#ffaa00"/>
<path d="M1834.0 410.0 L1839.0 398.0 L1846.0 400.0 L1852.0 408.0 L1854.0 420.0 L1848.0 430.0 L1840.0 436.0 L1832.4 434.0 L1831.0 424.0 Z" fill="#ffaa00"/>
<path d="M1830.0 444.0 L1840.0 440.0 L1848.0 444.0 L1844.0 452.0 L1836.0 460.0 L1828.0 468.0 L1826.0 458.0 Z" fill="#ffaa00"/>
<path d="M1838.0 464.0 L1848.0 454.0 L1860.0 450.0 L1868.0 456.0 L1874.0 468.0 L1868.0 480.0 L1860.0 492.0 L1853.0 498.0 L1848.0 508.0 L1845.0 518.0 L1840.0 508.0 L1834.0 496.0 L1830.0 484.0 L1832.0 472.0 Z" fill="#ffaa00"/>
<path d="M1872.0 452.0 L1880.0 456.0 L1884.0 464.0 L1876.0 464.0 L1870.0 460.0 Z" fill="#ffaa00"/>
<path d="M1817.0 464.0 L1822.0 464.0 L1830.0 484.0 L1834.0 496.0 L1840.0 508.0 L1844.0 516.0 L1836.0 518.0 L1828.0 516.0 L1820.0 512.0 L1814.0 510.0 L1813.0 500.0 L1820.0 492.0 L1824.0 480.0 L1818.0 476.0 Z" fill="#ffaa00"/>
<path d="M1820.0 496.0 L1826.0 488.0 L1830.0 496.0 L1828.0 506.0 L1822.0 506.0 Z" fill="#fcd37f"/>
<path d="M1816.0 537.0 L1826.0 535.0 L1828.0 540.0 L1820.0 542.0 Z" fill="#ffaa00"/>
<path d="M1752.0 604.0 L1760.0 596.0 L1770.0 588.0 L1775.0 586.0 L1773.0 598.0 L1778.0 604.0 L1770.0 612.0 L1760.0 613.0 L1753.0 611.0 Z" fill="#ffaa00"/>
<path d="M1696.0 640.0 L1720.0 632.0 L1740.0 626.0 L1768.0 630.0 L1776.0 660.0 L1692.0 660.0 Z" fill="#ffaa00"/>
<path d="M1777.0 598.0 L1782.0 592.0 L1788.0 590.0 L1786.0 598.0 L1780.0 602.0 Z" fill="#ffaa00"/>
<path d="M1583.0 628.0 L1590.0 616.0 L1598.0 608.0 L1607.0 604.4 L1610.0 607.0 L1602.0 618.0 L1594.0 630.0 L1586.0 642.0 L1583.0 640.0 Z" fill="#e60000"/>
<path d="M1778.0 585.0 L1784.0 582.0 L1788.0 586.0 L1785.0 591.0 L1779.0 590.0 Z" fill="#e60000"/>
</g>
<g clip-path="url(#cT21)">
<path d="M780.0 660.0 L1180.0 660.0 L1180.0 980.0 L780.0 980.0 Z" fill="#ffffff"/>
<path d="M924.0 660.0 L932.0 672.0 L938.0 690.0 L950.0 700.0 L960.0 712.0 L966.0 720.0 L973.0 727.0 L977.0 744.0 L973.0 760.0 L970.0 780.0 L968.0 800.0 L968.0 820.0 L967.0 836.0 L1014.0 869.0 L1062.0 877.0 L1082.0 877.0 L1083.0 868.0 L1118.0 867.0 L1124.0 876.0 L1132.0 882.0 L1140.0 894.0 L1152.0 906.0 L1155.0 916.0 L1158.0 928.0 L1164.0 936.0 L1172.0 942.0 L1180.0 946.0 L1180.0 660.0 Z" fill="#ffff00"/>
<path d="M988.0 766.0 L998.0 764.0 L1010.0 758.0 L1020.0 750.0 L1034.0 746.0 L1040.0 754.0 L1044.0 772.0 L1046.0 790.0 L1044.0 804.0 L1038.0 808.0 L1036.0 818.0 L1042.0 826.0 L1038.0 832.0 L1030.0 826.0 L1020.0 822.0 L1010.0 818.0 L1000.0 808.0 L1002.0 796.0 L994.0 790.0 L986.0 786.0 L988.0 776.0 Z" fill="#ffffff"/>
<path d="M1024.0 868.0 L1032.0 856.0 L1040.0 844.0 L1046.0 850.0 L1048.0 860.0 L1047.0 872.0 Z" fill="#ffffff"/>
<path d="M1156.0 772.0 L1164.0 762.0 L1172.0 760.0 L1175.0 768.0 L1170.0 780.0 L1162.0 782.0 Z" fill="#ffffff"/>
<path d="M1146.0 700.0 L1156.0 696.0 L1172.0 684.0 L1180.0 680.0 L1180.0 708.0 L1168.0 712.0 L1156.0 710.0 L1148.0 708.0 Z" fill="#ffffff"/>
<path d="M1126.0 872.0 L1136.0 870.0 L1138.0 876.0 L1132.0 880.0 Z" fill="#ffffff"/>
<path d="M948.0 660.0 L950.0 676.0 L952.0 690.0 L960.0 698.0 L968.0 706.0 L977.0 709.0 L1082.0 726.0 L1091.6 660.0 Z" fill="#fcd37f"/>
<path d="M977.0 709.0 L1082.0 726.0 L1078.0 756.0 L1072.0 764.0 L1064.0 760.0 L1056.0 752.0 L1046.0 744.0 L1036.0 740.0 L1020.0 740.0 L1010.0 736.0 L1000.0 730.0 L988.0 728.0 L980.0 732.0 L973.0 727.0 Z" fill="#fcd37f"/>
<path d="M1078.0 756.0 L1072.0 764.0 L1064.0 772.0 L1060.0 788.0 L1052.0 800.0 L1054.0 820.0 L1060.0 832.0 L1056.0 846.0 L1048.0 860.0 L1047.0 874.0 L1062.0 877.0 L1082.0 726.0 Z" fill="#fcd37f"/>
<path d="M970.0 830.0 L976.0 818.0 L986.0 812.0 L992.0 820.0 L996.0 832.0 L1004.0 840.0 L1006.0 852.0 L1012.0 860.0 L1014.0 869.0 L967.0 836.0 Z" fill="#fcd37f"/>
<path d="M1082.0 726.0 L1150.0 733.6 L1150.0 748.0 L1144.0 764.0 L1136.0 780.0 L1132.0 796.0 L1128.0 812.0 L1120.0 828.0 L1112.0 840.0 L1108.0 852.0 L1104.0 867.0 L1083.0 868.0 L1082.0 877.0 L1062.0 877.0 Z" fill="#fcd37f"/>
<path d="M1092.0 852.0 L1100.0 844.0 L1120.0 836.0 L1132.0 830.0 L1140.0 820.0 L1138.0 832.0 L1128.0 840.0 L1120.0 848.0 L1118.0 867.0 L1104.0 867.0 L1092.0 867.4 Z" fill="#fcd37f"/>
<path d="M1140.0 872.0 L1180.0 869.0 L1180.0 946.0 L1172.0 942.0 L1164.0 936.0 L1158.0 928.0 L1155.0 916.0 L1152.0 906.0 L1140.0 894.0 L1136.0 882.0 Z" fill="#fcd37f"/>
<path d="M1104.0 660.0 L1180.0 660.0 L1180.0 680.0 L1172.0 684.0 L1156.0 696.0 L1146.0 700.0 L1138.0 706.0 L1120.0 704.0 L1108.0 696.0 L1102.0 680.0 Z" fill="#fcd37f"/>
<path d="M1104.0 710.0 L1120.0 705.0 L1138.0 707.0 L1148.0 710.0 L1156.0 710.0 L1160.0 720.0 L1161.0 735.0 L1120.0 730.4 L1108.0 720.0 Z" fill="#fcd37f"/>
<path d="M988.0 660.0 L1080.0 660.0 L1076.0 672.0 L1068.0 684.0 L1056.0 692.0 L1040.0 694.0 L1028.0 690.0 L1018.0 682.0 L1012.0 672.0 L1010.0 664.0 Z" fill="#ffaa00"/>
<path d="M1082.0 729.0 L1120.0 731.0 L1136.0 734.0 L1146.0 738.0 L1148.0 746.0 L1140.0 754.0 L1132.0 764.0 L1128.0 776.0 L1120.0 788.0 L1116.0 804.0 L1120.0 816.0 L1112.0 830.0 L1108.0 840.0 L1092.0 850.0 L1089.0 868.0 L1083.0 868.0 L1082.0 877.0 L1063.0 877.0 L1068.0 836.0 L1074.0 788.0 L1078.0 756.0 Z" fill="#ffaa00"/>
<path d="M1098.0 784.0 L1108.0 776.0 L1116.0 774.0 L1120.0 782.0 L1116.0 792.0 L1108.0 800.0 L1100.0 796.0 Z" fill="#fcd37f"/>
<path d="M1104.0 748.0 L1116.0 744.0 L1128.0 740.0 L1132.0 748.0 L1124.0 754.0 L1114.0 758.0 L1106.0 756.0 Z" fill="#fcd37f"/>
<path d="M1056.0 794.0 L1064.0 790.0 L1074.0 792.0 L1068.0 836.0 L1060.0 832.0 L1054.0 820.0 L1052.0 804.0 Z" fill="#ffaa00"/>
<path d="M1064.0 764.0 L1074.0 750.0 L1080.0 744.0 L1078.0 756.0 L1074.0 788.0 L1068.0 780.0 L1066.0 772.0 Z" fill="#ffaa00"/>
<path d="M988.0 844.0 L992.0 836.0 L998.0 840.0 L999.0 850.0 L992.0 852.0 Z" fill="#ffaa00"/>
<path d="M1108.0 660.0 L1180.0 660.0 L1180.0 672.0 L1168.0 680.0 L1156.0 684.0 L1140.0 682.0 L1124.0 676.0 L1112.0 668.0 Z" fill="#ffaa00"/>
<path d="M1105.0 711.0 L1116.0 707.0 L1132.0 708.0 L1136.0 714.0 L1128.0 718.0 L1114.0 718.0 Z" fill="#ffaa00"/>
<path d="M1156.0 896.0 L1162.0 890.0 L1166.0 900.0 L1165.0 912.0 L1170.0 920.0 L1180.0 918.0 L1180.0 936.0 L1168.0 934.0 L1160.0 926.0 L1156.0 912.0 Z" fill="#ffaa00"/>
<path d="M1033.0 670.0 L1040.0 662.0 L1046.0 660.0 L1060.0 660.0 L1048.0 666.0 L1038.0 673.0 Z" fill="#e60000"/>
<path d="M1128.0 660.0 L1156.0 660.0 L1156.0 668.0 L1150.0 676.0 L1140.0 678.0 L1132.0 672.0 Z" fill="#e60000"/>
<path d="M1132.0 664.0 L1140.0 662.0 L1146.0 668.0 L1140.0 674.0 L1134.0 671.0 Z" fill="#730000"/>
<path d="M1092.0 739.0 L1100.0 737.0 L1110.0 738.0 L1112.0 742.0 L1106.0 745.0 L1096.0 744.0 Z" fill="#e60000"/>
<path d="M1074.0 798.0 L1080.0 794.0 L1088.0 796.0 L1094.0 804.0 L1094.0 814.0 L1089.0 815.0 L1088.0 806.0 L1082.0 802.0 L1075.0 804.0 Z" fill="#e60000"/>
<path d="M1160.0 930.0 L1180.0 930.0 L1180.0 948.0 L1172.0 942.0 L1164.0 936.0 Z" fill="#e60000"/>
</g>
<g clip-path="url(#cT22)">
<path d="M1180.0 660.0 L1580.0 660.0 L1580.0 980.0 L1180.0 980.0 Z" fill="#ffff00"/>
<path d="M1192.0 660.0 L1231.6 660.0 L1231.2 738.0 L1180.0 737.0 L1180.0 690.0 L1186.0 678.0 Z" fill="#ffffff"/>
<path d="M1180.0 712.0 L1192.0 710.0 L1198.0 720.0 L1204.0 726.0 L1231.2 727.0 L1231.2 738.0 L1180.0 737.0 Z" fill="#ffff00"/>
<path d="M1180.0 737.6 L1210.0 739.2 L1209.0 748.0 L1200.0 752.0 L1188.0 750.0 L1180.0 746.0 Z" fill="#ffffff"/>
<path d="M1232.0 726.0 L1234.0 680.0 L1246.0 679.0 L1260.0 682.0 L1274.0 684.0 L1286.0 678.0 L1292.0 670.0 L1304.0 664.0 L1368.0 662.0 L1380.0 672.0 L1380.0 682.0 L1386.0 687.0 L1386.0 700.0 L1378.0 708.0 L1370.0 712.0 L1360.0 714.0 L1350.0 716.0 L1342.0 724.0 L1336.0 736.0 L1328.0 726.0 L1320.0 720.0 L1312.0 724.0 L1304.0 730.0 L1296.0 736.0 L1280.0 734.0 L1264.0 730.0 L1248.0 730.0 Z" fill="#ffffff"/>
<path d="M1352.0 680.0 L1364.0 676.0 L1376.0 680.0 L1372.0 688.0 L1360.0 690.0 L1352.0 686.0 Z" fill="#ffff00"/>
<path d="M1384.0 660.0 L1420.0 660.0 L1422.0 670.0 L1416.0 678.0 L1404.0 680.0 L1392.0 676.0 L1386.0 668.0 Z" fill="#ffffff"/>
<path d="M1492.0 826.0 L1504.0 816.0 L1516.0 800.0 L1528.0 796.0 L1529.0 840.0 L1528.0 860.0 L1520.0 864.0 L1508.0 872.0 L1500.0 880.0 L1492.0 886.0 L1484.0 896.0 L1474.0 900.0 L1468.0 898.0 L1476.0 884.0 L1488.0 872.0 L1496.0 860.0 L1500.0 848.0 L1498.0 836.0 Z" fill="#ffffff"/>
<path d="M1530.0 826.0 L1540.0 823.0 L1556.0 820.0 L1570.0 820.0 L1572.0 832.0 L1568.0 844.0 L1556.0 848.0 L1540.0 850.0 L1530.0 848.0 Z" fill="#ffffff"/>
<path d="M1460.0 902.0 L1499.0 900.0 L1502.0 910.0 L1492.0 914.0 L1480.0 916.0 L1468.0 918.0 L1460.0 914.0 Z" fill="#ffffff"/>
<path d="M1416.0 932.0 L1430.0 928.0 L1446.0 926.0 L1460.0 920.0 L1468.0 924.0 L1460.0 934.0 L1448.0 938.0 L1430.0 938.0 L1420.0 936.0 Z" fill="#ffffff"/>
<path d="M1528.0 714.0 L1540.0 709.0 L1560.0 703.0 L1568.0 695.0 L1580.0 686.0 L1580.0 740.0 L1536.0 746.0 L1532.0 736.0 L1536.0 726.0 Z" fill="#ffffff"/>
<path d="M1554.0 754.0 L1566.0 750.0 L1580.0 748.0 L1580.0 764.0 L1568.0 766.0 L1558.0 764.0 Z" fill="#ffffff"/>
<path d="M1554.0 666.0 L1566.0 660.0 L1580.0 660.0 L1580.0 672.0 L1570.0 676.0 L1560.0 674.0 Z" fill="#ffffff"/>
<path d="M1272.0 755.6 L1272.0 768.0 L1280.0 764.0 L1292.0 768.0 L1300.0 760.0 L1316.0 756.0 L1332.0 754.0 L1340.0 748.0 L1360.0 746.0 L1387.0 746.0 L1387.0 726.0 L1396.0 722.0 L1408.0 720.0 L1420.0 724.0 L1430.0 726.0 L1438.0 720.0 L1440.0 704.0 L1442.0 688.0 L1440.0 672.0 L1438.0 660.0 L1530.0 660.0 L1532.0 690.0 L1528.0 712.0 L1524.0 716.0 L1520.0 726.0 L1512.0 734.0 L1502.0 744.0 L1498.0 752.0 L1495.0 760.0 L1489.0 772.0 L1486.0 784.0 L1480.0 796.0 L1476.0 808.0 L1468.0 818.0 L1464.0 832.0 L1466.0 848.0 L1470.0 860.0 L1472.0 868.0 L1466.0 878.0 L1460.0 890.0 L1459.0 900.0 L1448.0 906.0 L1440.0 912.0 L1432.0 918.0 L1420.0 920.0 L1412.0 920.0 L1410.0 937.0 L1400.0 940.0 L1392.0 944.0 L1384.0 950.0 L1380.0 956.0 L1372.0 964.0 L1360.0 968.0 L1350.0 972.0 L1340.0 980.0 L1257.0 980.0 L1252.0 966.0 L1248.0 954.0 L1240.0 944.0 L1232.0 936.0 L1226.0 930.0 L1212.0 928.0 L1204.0 934.0 L1198.0 944.0 L1192.0 952.0 L1180.0 946.0 L1180.0 870.0 L1190.0 880.0 L1200.0 890.0 L1210.0 896.0 L1220.0 894.0 L1224.0 884.0 L1220.0 876.0 L1222.0 868.0 L1232.0 860.0 L1240.0 852.0 L1248.0 840.0 L1246.0 832.0 L1236.0 830.0 L1228.0 834.0 L1220.0 840.0 L1210.0 844.0 L1208.0 836.0 L1216.0 826.0 L1226.0 820.0 L1236.0 816.0 L1246.0 812.0 L1256.0 808.0 L1264.0 812.0 L1272.0 810.0 Z" fill="#fcd37f"/>
<path d="M1292.0 832.0 L1304.0 836.0 L1320.0 832.0 L1336.0 830.0 L1350.0 834.0 L1356.0 844.0 L1348.0 850.0 L1336.0 852.0 L1324.0 860.0 L1316.0 860.0 L1308.0 852.0 L1300.0 844.0 L1292.0 840.0 Z" fill="#ffff00"/>
<path d="M1224.0 884.0 L1236.0 876.0 L1248.0 868.0 L1260.0 860.0 L1272.0 858.0 L1284.0 860.0 L1292.0 868.0 L1292.0 880.0 L1300.0 884.0 L1312.0 882.0 L1320.0 886.0 L1316.0 896.0 L1304.0 900.0 L1292.0 898.0 L1284.0 904.0 L1280.0 916.0 L1292.0 920.0 L1300.0 926.0 L1292.0 934.0 L1280.0 936.0 L1268.0 940.0 L1256.0 936.0 L1244.0 928.0 L1232.0 926.0 L1224.0 916.0 L1228.0 904.0 L1224.0 894.0 Z" fill="#ffff00"/>
<path d="M1296.0 868.0 L1300.0 864.0 L1305.0 868.0 L1302.0 875.0 L1297.0 874.0 Z" fill="#ffffff"/>
<path d="M1257.0 918.0 L1264.0 906.0 L1274.0 896.0 L1280.0 895.0 L1278.0 906.0 L1270.0 914.0 L1260.0 922.0 Z" fill="#ffffff"/>
<path d="M1360.0 920.0 L1368.0 918.0 L1372.0 926.0 L1368.0 934.0 L1361.0 932.0 Z" fill="#ffff00"/>
<path d="M1416.0 858.0 L1432.0 852.0 L1448.0 850.0 L1464.0 850.0 L1466.0 860.0 L1456.0 866.0 L1440.0 870.0 L1428.0 868.0 L1420.0 864.0 Z" fill="#ffff00"/>
<path d="M1434.0 876.0 L1448.0 872.0 L1460.0 874.0 L1456.0 880.0 L1444.0 882.0 L1436.0 880.0 Z" fill="#ffff00"/>
<path d="M1492.0 720.0 L1498.0 734.0 L1502.0 744.0 L1512.0 734.0 L1520.0 726.0 L1528.0 720.0 L1536.0 726.0 L1532.0 736.0 L1536.0 746.0 L1500.0 752.0 L1498.0 752.0 L1495.0 760.0 L1489.0 772.0 L1486.0 768.0 L1484.0 753.0 L1488.0 740.0 L1486.0 728.0 Z" fill="#ffff00"/>
<path d="M1180.0 812.0 L1188.0 808.0 L1200.0 812.0 L1202.0 820.0 L1199.0 870.0 L1180.0 869.0 Z" fill="#fcd37f"/>
<path d="M1352.0 740.0 L1360.0 730.0 L1372.0 726.0 L1387.0 724.0 L1387.0 746.0 L1360.0 746.0 Z" fill="#fcd37f"/>
<path d="M1476.0 808.0 L1492.0 808.0 L1496.0 816.0 L1488.0 824.0 L1480.0 826.0 L1474.0 820.0 Z" fill="#fcd37f"/>
<path d="M1536.0 880.0 L1544.0 868.0 L1552.0 860.0 L1560.0 854.0 L1572.0 852.0 L1580.0 850.0 L1580.0 911.0 L1560.0 915.0 L1552.0 906.0 L1550.0 897.0 L1540.0 898.0 L1534.0 896.0 L1533.0 888.0 Z" fill="#fcd37f"/>
<path d="M1500.0 752.0 L1536.0 748.0 L1540.0 760.0 L1536.0 772.0 L1530.0 788.0 L1486.0 792.0 L1489.0 772.0 L1495.0 760.0 Z" fill="#fcd37f"/>
<path d="M1466.0 832.0 L1476.0 828.0 L1480.0 836.0 L1478.0 848.0 L1472.0 860.0 L1470.0 860.0 L1466.0 848.0 Z" fill="#fcd37f"/>
<path d="M1459.0 900.0 L1460.0 890.0 L1466.0 878.0 L1472.0 868.0 L1480.0 870.0 L1484.0 880.0 L1478.0 890.0 L1470.0 898.0 Z" fill="#fcd37f"/>
<path d="M1460.0 936.0 L1468.0 932.0 L1480.0 934.0 L1492.0 936.0 L1500.0 940.0 L1504.0 948.0 L1492.0 952.0 L1484.0 955.0 L1476.0 953.0 L1468.0 949.0 L1464.0 942.0 Z" fill="#fcd37f"/>
<path d="M1180.0 660.0 L1231.6 660.0 L1231.6 666.0 L1220.0 668.0 L1204.0 667.0 L1192.0 668.0 L1180.0 670.0 Z" fill="#fcd37f"/>
<path d="M1388.0 746.0 L1399.0 736.0 L1411.0 733.0 L1423.0 739.0 L1435.0 742.0 L1444.0 736.0 L1453.0 730.0 L1465.0 724.0 L1477.0 721.0 L1487.4 715.0 L1492.0 720.0 L1486.0 728.0 L1488.0 740.0 L1484.0 753.0 L1480.0 768.0 L1476.0 780.0 L1478.0 792.0 L1476.0 808.0 L1468.0 818.0 L1464.0 832.0 L1456.0 836.0 L1444.0 840.0 L1432.0 842.0 L1420.0 844.0 L1410.0 840.0 L1404.0 832.0 L1406.0 820.0 L1412.0 808.0 L1420.0 800.0 L1416.0 788.0 L1412.0 780.0 L1420.0 768.0 L1428.0 760.0 L1420.0 756.0 L1408.0 760.0 L1400.0 755.6 L1389.0 756.0 Z" fill="#ffaa00"/>
<path d="M1396.0 800.0 L1408.0 798.0 L1412.0 808.0 L1406.0 820.0 L1404.0 832.0 L1394.0 832.0 L1392.4 816.0 Z" fill="#fcd37f"/>
<path d="M1460.0 672.0 L1468.0 664.0 L1484.0 660.0 L1530.0 660.0 L1532.0 690.0 L1529.0 710.0 L1520.0 716.0 L1508.0 714.0 L1502.0 706.0 L1500.0 694.0 L1498.0 688.0 L1488.0 686.0 L1476.0 688.0 L1468.0 682.0 Z" fill="#ffaa00"/>
<path d="M1506.0 680.0 L1516.0 678.0 L1522.0 686.0 L1520.0 696.0 L1510.0 698.0 L1505.0 690.0 Z" fill="#fcd37f"/>
<path d="M1476.0 690.0 L1488.0 688.0 L1498.0 690.0 L1500.0 700.0 L1502.0 710.0 L1496.0 718.0 L1488.0 716.0 L1480.0 708.0 L1475.0 700.0 Z" fill="#ffff00"/>
<path d="M1274.0 784.0 L1284.0 778.0 L1296.0 776.0 L1308.0 780.0 L1320.0 788.0 L1332.0 784.0 L1344.0 788.0 L1356.0 792.0 L1364.0 800.0 L1360.0 808.0 L1348.0 812.0 L1336.0 816.0 L1324.0 818.0 L1312.0 818.0 L1300.0 816.0 L1288.0 812.0 L1276.0 804.0 Z" fill="#ffaa00"/>
<path d="M1300.0 790.0 L1310.0 788.0 L1318.0 794.0 L1314.0 804.0 L1304.0 806.0 L1299.0 800.0 Z" fill="#fcd37f"/>
<path d="M1368.0 764.0 L1376.0 756.0 L1386.0 748.0 L1388.0 756.0 L1389.0 772.0 L1384.0 778.0 L1376.0 776.0 L1370.0 772.0 Z" fill="#ffaa00"/>
<path d="M1218.0 828.0 L1228.0 822.0 L1240.0 818.0 L1252.0 814.0 L1264.0 816.0 L1270.0 824.0 L1264.0 832.0 L1256.0 840.0 L1248.0 848.0 L1240.0 856.0 L1232.0 860.0 L1224.0 868.0 L1220.0 876.0 L1212.0 868.0 L1210.0 856.0 L1212.0 844.0 L1216.0 836.0 Z" fill="#ffaa00"/>
<path d="M1356.0 836.0 L1364.0 830.0 L1376.0 828.0 L1392.0 834.0 L1400.0 836.0 L1402.0 848.0 L1400.0 872.0 L1406.0 884.0 L1410.0 896.0 L1414.0 906.0 L1412.0 920.0 L1410.0 937.0 L1400.0 940.0 L1392.0 944.0 L1384.0 950.0 L1380.0 956.0 L1372.0 964.0 L1360.0 968.0 L1350.0 972.0 L1340.0 980.0 L1320.0 980.0 L1324.0 972.0 L1332.0 964.0 L1340.0 956.0 L1348.0 948.0 L1352.0 940.0 L1356.0 928.0 L1360.0 920.0 L1356.0 912.0 L1348.0 904.0 L1356.0 896.0 L1368.0 890.0 L1380.0 884.0 L1388.0 876.0 L1392.0 868.0 L1388.0 860.0 L1376.0 860.0 L1364.0 856.0 L1358.0 848.0 Z" fill="#ffaa00"/>
<path d="M1402.0 848.0 L1420.0 848.0 L1432.0 852.0 L1416.0 858.0 L1420.0 864.0 L1428.0 868.0 L1434.0 876.0 L1436.0 880.0 L1444.0 882.0 L1456.0 880.0 L1460.0 890.0 L1459.0 900.0 L1448.0 906.0 L1440.0 912.0 L1432.0 918.0 L1420.0 920.0 L1412.0 920.0 L1414.0 906.0 L1410.0 896.0 L1406.0 884.0 L1400.0 872.0 Z" fill="#ffaa00"/>
<path d="M1388.0 890.0 L1396.0 886.0 L1400.0 896.0 L1396.0 908.0 L1390.0 912.0 L1386.0 900.0 Z" fill="#fcd37f"/>
<path d="M1361.0 920.0 L1368.0 918.4 L1371.6 926.0 L1368.0 933.6 L1361.6 931.6 Z" fill="#ffff00"/>
<path d="M1257.0 980.0 L1252.0 966.0 L1260.0 956.0 L1272.0 948.0 L1284.0 940.0 L1296.0 928.0 L1308.0 920.0 L1320.0 914.0 L1336.0 912.0 L1348.0 920.0 L1354.0 932.0 L1356.0 944.0 L1352.0 956.0 L1340.0 964.0 L1332.0 972.0 L1324.0 980.0 Z" fill="#ffaa00"/>
<path d="M1180.0 918.0 L1192.0 920.0 L1204.0 924.0 L1212.0 928.0 L1204.0 934.0 L1198.0 944.0 L1192.0 952.0 L1180.0 946.0 Z" fill="#ffaa00"/>
<path d="M1180.0 836.0 L1186.0 840.0 L1190.0 852.0 L1188.0 864.0 L1180.0 868.0 Z" fill="#ffaa00"/>
<path d="M1552.0 876.0 L1560.0 868.0 L1572.0 862.0 L1580.0 860.0 L1580.0 911.0 L1570.0 913.0 L1560.0 915.0 L1554.0 914.0 L1552.0 906.0 L1550.0 897.0 L1552.0 884.0 Z" fill="#ffaa00"/>
<path d="M1480.0 796.0 L1492.0 798.0 L1494.0 806.0 L1484.0 809.0 L1477.0 808.0 Z" fill="#ffaa00"/>
<path d="M1180.0 660.0 L1192.0 660.0 L1190.0 668.0 L1180.0 670.0 Z" fill="#ffaa00"/>
<path d="M1426.0 764.0 L1436.0 760.0 L1448.0 758.0 L1460.0 754.0 L1472.0 754.0 L1480.0 758.0 L1478.0 768.0 L1476.0 778.0 L1468.0 786.0 L1460.0 790.0 L1452.0 792.0 L1442.0 796.0 L1432.0 792.0 L1425.0 784.0 L1423.0 774.0 Z" fill="#e60000"/>
<path d="M1448.0 758.0 L1456.0 746.0 L1464.0 742.0 L1468.0 746.0 L1462.0 754.0 Z" fill="#e60000"/>
<path d="M1442.0 766.0 L1450.0 758.0 L1456.0 760.0 L1454.0 768.0 L1460.0 774.0 L1466.0 776.0 L1464.0 782.0 L1456.0 782.0 L1452.0 774.0 L1446.0 772.0 Z" fill="#730000"/>
<path d="M1416.0 796.0 L1422.0 794.0 L1429.0 800.0 L1428.0 808.0 L1420.0 809.0 L1415.0 804.0 Z" fill="#e60000"/>
<path d="M1398.0 817.0 L1401.0 816.0 L1402.0 820.0 L1399.0 821.0 Z" fill="#e60000"/>
<path d="M1280.0 794.0 L1286.0 790.0 L1294.0 794.0 L1298.0 802.0 L1300.0 810.0 L1304.0 815.0 L1296.0 814.0 L1288.0 808.0 L1282.0 802.0 Z" fill="#e60000"/>
<path d="M1312.0 814.0 L1320.0 804.0 L1328.0 798.0 L1332.0 790.0 L1338.0 787.0 L1346.0 792.0 L1346.0 798.0 L1338.0 798.0 L1332.0 802.0 L1324.0 810.0 L1316.0 816.0 Z" fill="#e60000"/>
<path d="M1364.0 836.0 L1370.0 830.0 L1376.0 828.0 L1380.0 822.0 L1386.0 820.0 L1390.0 826.0 L1389.0 834.0 L1388.0 844.0 L1382.0 850.0 L1372.0 850.0 L1365.0 844.0 Z" fill="#e60000"/>
<path d="M1382.0 756.0 L1387.0 754.0 L1387.0 766.0 L1383.0 765.0 Z" fill="#e60000"/>
<path d="M1438.0 894.0 L1446.0 890.0 L1456.0 888.0 L1459.0 900.0 L1452.0 904.0 L1444.0 906.0 L1439.0 900.0 Z" fill="#e60000"/>
<path d="M1459.0 900.0 L1460.0 890.0 L1466.0 886.0 L1469.0 892.0 L1466.0 900.0 Z" fill="#e60000"/>
<path d="M1257.0 980.0 L1260.0 968.0 L1268.0 960.0 L1280.0 948.0 L1292.0 936.0 L1304.0 926.0 L1320.0 916.0 L1334.0 914.0 L1346.0 920.0 L1352.0 928.0 L1352.0 940.0 L1344.0 948.0 L1336.0 954.0 L1348.0 952.0 L1356.0 956.0 L1352.0 964.0 L1340.0 968.0 L1328.0 972.0 L1320.0 980.0 Z" fill="#e60000"/>
<path d="M1320.0 972.0 L1328.0 966.0 L1336.0 964.0 L1332.0 972.0 L1324.0 980.0 L1316.0 980.0 Z" fill="#ffaa00"/>
<path d="M1377.0 920.0 L1382.0 917.0 L1386.0 926.0 L1387.0 934.0 L1382.0 932.0 Z" fill="#e60000"/>
<path d="M1180.0 928.0 L1192.0 924.0 L1204.0 926.0 L1206.0 931.0 L1200.0 938.0 L1192.0 952.0 L1180.0 946.0 Z" fill="#e60000"/>
<path d="M1180.0 941.0 L1188.0 944.0 L1192.0 950.0 L1186.0 950.0 L1180.0 947.0 Z" fill="#730000"/>
<path d="M1488.0 660.0 L1530.0 660.0 L1531.0 668.0 L1520.0 672.0 L1508.0 674.0 L1496.0 670.0 Z" fill="#e60000"/>
<path d="M1554.0 876.0 L1560.0 872.0 L1568.0 874.0 L1570.0 884.0 L1571.0 894.0 L1560.0 896.0 L1555.0 888.0 Z" fill="#e60000"/>
<path d="M1500.0 920.0 L1512.0 924.0 L1524.0 940.0 L1520.0 950.0 L1512.0 954.0 L1508.0 948.0 L1501.0 948.0 L1504.0 936.0 Z" fill="#ffffff"/>
</g>
<g clip-path="url(#cT23)">
<path d="M1580.0 660.0 L1980.0 660.0 L1980.0 980.0 L1580.0 980.0 Z" fill="#ffffff"/>
<path d="M1592.0 740.0 L1620.0 737.0 L1661.0 733.0 L1656.0 744.0 L1646.0 750.0 L1638.0 756.0 L1630.0 764.0 L1620.0 772.0 L1614.0 778.0 L1612.0 782.0 L1586.0 785.6 L1588.0 780.0 L1592.0 768.0 L1598.0 756.0 L1600.0 744.0 Z" fill="#ffaa00"/>
<path d="M1630.0 732.0 L1640.0 720.0 L1650.0 710.0 L1656.0 714.0 L1668.0 712.0 L1680.0 702.0 L1686.0 697.0 L1684.0 704.0 L1674.0 714.0 L1664.0 722.0 L1652.0 728.0 L1640.0 733.0 Z" fill="#ffff00"/>
<path d="M1580.0 742.0 L1592.0 740.0 L1600.0 744.0 L1598.0 756.0 L1592.0 768.0 L1588.0 780.0 L1586.0 785.6 L1580.0 784.0 Z" fill="#ffff00"/>
<path d="M1580.0 800.0 L1588.0 804.0 L1592.0 820.0 L1594.0 836.0 L1588.0 844.0 L1580.0 840.0 Z" fill="#ffff00"/>
<path d="M1580.0 670.0 L1584.0 672.0 L1583.0 680.0 L1580.0 682.0 Z" fill="#ffff00"/>
<path d="M1688.0 696.0 L1693.6 676.0 L1695.0 660.0 L1788.0 660.0 L1790.0 672.0 L1786.0 684.0 L1782.0 696.0 L1780.0 710.0 L1788.0 728.0 L1780.0 746.0 L1778.0 762.0 L1760.0 768.0 L1754.0 784.0 L1752.0 790.0 L1740.0 794.0 L1732.0 804.0 L1730.0 814.0 L1724.0 820.0 L1716.0 826.0 L1708.0 834.0 L1700.0 840.0 L1696.0 848.0 L1694.0 860.0 L1691.0 872.0 L1690.0 884.0 L1692.0 896.0 L1696.0 906.0 L1700.0 916.0 L1708.0 926.0 L1716.0 936.0 L1720.0 944.0 L1724.0 956.0 L1732.0 968.0 L1738.0 980.0 L1674.0 980.0 L1670.0 968.0 L1668.0 958.0 L1672.0 948.0 L1668.0 940.0 L1660.0 934.0 L1652.0 928.0 L1644.0 918.0 L1634.0 914.0 L1626.0 916.0 L1620.0 924.0 L1612.0 928.0 L1604.0 926.0 L1600.0 918.0 L1592.0 914.0 L1586.0 910.0 L1580.0 911.0 L1580.0 840.0 L1588.0 844.0 L1594.0 836.0 L1592.0 820.0 L1588.0 804.0 L1586.0 785.6 L1592.0 776.0 L1600.0 764.0 L1610.0 756.0 L1620.0 748.0 L1632.0 740.0 L1646.0 732.0 L1660.0 724.0 L1668.0 714.0 L1680.0 702.0 Z" fill="#ffaa00"/>
<path d="M1732.0 700.0 L1740.0 694.0 L1750.0 690.0 L1754.0 696.0 L1748.0 704.0 L1738.0 707.0 Z" fill="#ffff00"/>
<path d="M1580.0 785.6 L1586.0 785.6 L1592.0 804.0 L1597.0 824.0 L1600.0 834.0 L1596.0 840.0 L1588.0 844.0 L1580.0 840.0 Z" fill="#ffff00"/>
<path d="M1580.0 808.0 L1586.0 806.0 L1590.0 818.0 L1588.0 828.0 L1580.0 830.0 Z" fill="#ffffff"/>
<path d="M1688.0 696.0 L1693.6 676.0 L1695.0 660.0 L1708.0 660.0 L1706.0 672.0 L1702.0 684.0 L1698.0 700.0 L1696.0 712.0 L1692.0 724.0 L1684.0 728.0 L1672.0 732.0 L1661.0 733.0 L1656.0 744.0 L1646.0 750.0 L1638.0 756.0 L1630.0 764.0 L1620.0 772.0 L1614.0 778.0 L1606.0 774.0 L1612.0 764.0 L1620.0 754.0 L1632.0 744.0 L1646.0 736.0 L1660.0 726.0 L1668.0 716.0 L1680.0 704.0 Z" fill="#fcd37f"/>
<path d="M1730.0 690.0 L1738.0 682.0 L1748.0 678.0 L1756.0 682.0 L1760.0 692.0 L1764.0 702.0 L1772.0 708.0 L1780.0 710.0 L1768.0 712.0 L1756.0 713.0 L1744.0 710.0 L1734.0 708.0 L1730.0 700.0 Z" fill="#fcd37f"/>
<path d="M1733.0 700.0 L1740.0 694.4 L1749.6 690.4 L1753.6 696.0 L1748.0 703.6 L1738.4 706.6 Z" fill="#ffff00"/>
<path d="M1752.0 760.0 L1764.0 752.0 L1772.0 748.0 L1780.0 746.0 L1778.0 762.0 L1768.0 764.0 L1760.0 768.0 L1756.0 776.0 L1754.0 784.0 L1752.0 790.0 L1740.0 794.0 L1738.0 784.0 L1744.0 772.0 Z" fill="#fcd37f"/>
<path d="M1772.0 716.0 L1780.0 712.0 L1788.0 728.0 L1780.0 736.0 L1774.0 728.0 Z" fill="#fcd37f"/>
<path d="M1668.0 808.0 L1676.0 796.0 L1684.0 784.0 L1700.0 782.0 L1712.0 788.0 L1724.0 798.0 L1716.0 802.0 L1700.0 806.0 L1688.0 810.0 L1680.0 818.0 L1674.0 816.0 Z" fill="#fcd37f"/>
<path d="M1604.0 830.0 L1620.0 826.0 L1640.0 822.0 L1660.0 820.0 L1676.0 822.0 L1678.0 830.0 L1664.0 832.0 L1646.0 834.0 L1628.0 838.0 L1612.0 842.0 L1602.0 838.0 Z" fill="#fcd37f"/>
<path d="M1674.0 956.0 L1684.0 948.0 L1692.0 940.0 L1700.0 936.0 L1708.0 940.0 L1714.0 950.0 L1718.0 960.0 L1708.0 962.0 L1696.0 958.0 L1686.0 962.0 L1678.0 964.0 Z" fill="#fcd37f"/>
<path d="M1636.0 780.0 L1648.0 776.0 L1660.0 772.0 L1674.0 772.0 L1668.0 778.0 L1658.0 784.0 L1646.0 790.0 L1640.0 788.0 Z" fill="#fcd37f"/>
<path d="M1741.0 728.0 L1746.0 723.0 L1754.0 723.0 L1758.0 728.0 L1754.0 735.0 L1747.0 738.0 L1741.6 734.0 Z" fill="#e60000"/>
<path d="M1689.0 756.0 L1696.0 755.0 L1698.0 764.0 L1695.0 772.0 L1690.0 771.0 Z" fill="#e60000"/>
<path d="M1646.0 792.0 L1654.0 784.0 L1664.0 778.0 L1673.0 775.0 L1674.0 784.0 L1668.0 792.0 L1660.0 800.0 L1652.0 802.0 L1648.0 798.0 Z" fill="#e60000"/>
<path d="M1627.0 808.0 L1636.0 802.0 L1646.0 798.0 L1652.0 804.0 L1650.0 810.0 L1638.0 811.0 Z" fill="#e60000"/>
<path d="M1596.0 776.0 L1600.0 775.0 L1601.0 780.0 L1597.0 781.0 Z" fill="#e60000"/>
<path d="M1584.0 850.0 L1592.0 846.0 L1604.0 842.0 L1616.0 838.0 L1624.0 837.0 L1620.0 844.0 L1610.0 852.0 L1598.0 858.0 L1588.0 861.0 L1583.0 858.0 Z" fill="#e60000"/>
<path d="M1612.0 886.0 L1624.0 882.0 L1636.0 876.0 L1644.0 864.0 L1650.0 848.0 L1656.0 840.0 L1662.0 841.0 L1666.0 852.0 L1668.0 860.0 L1676.0 854.0 L1686.0 851.0 L1692.0 852.0 L1694.0 860.0 L1691.0 872.0 L1686.0 868.0 L1678.0 872.0 L1670.0 880.0 L1676.0 886.0 L1684.0 882.0 L1690.0 884.0 L1692.0 896.0 L1696.0 906.0 L1700.0 916.0 L1708.0 926.0 L1700.0 930.0 L1692.0 932.0 L1684.0 936.0 L1676.0 939.0 L1668.0 940.0 L1660.0 934.0 L1652.0 928.0 L1644.0 918.0 L1634.0 914.0 L1626.0 916.0 L1620.0 924.0 L1612.0 928.0 L1604.0 926.0 L1600.0 918.0 L1592.0 914.0 L1586.0 910.0 L1584.0 904.0 L1592.0 898.0 L1604.0 894.0 L1612.0 898.0 Z" fill="#e60000"/>
<path d="M1680.0 968.0 L1692.0 964.0 L1704.0 968.0 L1716.0 970.0 L1720.0 960.0 L1724.0 956.0 L1732.0 968.0 L1738.0 980.0 L1676.0 980.0 Z" fill="#e60000"/>
</g>
<g clip-path="url(#cT32)">
<path d="M1180.0 960.0 L1480.0 960.0 L1480.0 1080.0 L1180.0 1080.0 Z" fill="#e60000"/>
<path d="M1310.5 969.0 L1318.0 966.0 L1330.0 963.0 L1345.0 960.0 L1375.0 960.0 L1340.0 979.9 L1333.0 985.5 L1327.7 990.0 L1324.7 994.5 L1323.2 1002.0 L1321.0 1011.0 L1323.2 1020.0 L1326.2 1026.0 L1328.5 1032.0 L1329.2 1038.0 L1324.0 1041.7 L1315.0 1036.5 L1306.0 1032.0 L1307.5 1023.0 L1312.0 1014.0 L1318.0 1002.0 L1321.0 993.0 L1315.0 990.0 L1307.5 988.5 L1301.5 991.5 L1298.5 994.5 L1295.5 990.0 L1300.0 984.0 L1307.5 981.0 L1313.5 981.0 L1312.0 975.0 Z" fill="#ffaa00"/>
<path d="M1271.5 988.5 L1277.5 984.7 L1283.5 994.5 L1282.0 1005.0 L1279.0 1009.5 L1276.0 1005.0 L1273.7 997.5 Z" fill="#ffaa00"/>
<path d="M1313.5 981.0 L1322.5 977.2 L1327.0 982.5 L1322.5 988.5 L1316.5 987.0 Z" fill="#fcd37f"/>
<path d="M1309.0 1026.0 L1315.0 1021.5 L1321.0 1026.0 L1324.0 1033.5 L1319.5 1035.0 L1312.0 1030.5 Z" fill="#fcd37f"/>
<path d="M1316.5 1026.0 L1320.2 1024.5 L1322.5 1029.7 L1318.7 1030.5 Z" fill="#ffff00"/>
<path d="M1288.7 1006.5 L1294.0 1008.0 L1303.0 1007.2 L1305.2 1009.5 L1298.5 1013.2 L1291.0 1014.0 L1288.7 1011.0 Z" fill="#730000"/>
</g>
<g clip-path="url(#cT33)">
<path d="M1580.0 960.0 L1880.0 960.0 L1880.0 1080.0 L1580.0 1080.0 Z" fill="#e60000"/>
<path d="M1670.0 960.0 L1724.0 960.0 L1719.5 966.0 L1715.0 969.0 L1707.5 967.5 L1697.0 964.5 L1685.0 963.0 L1677.5 964.5 Z" fill="#ffaa00"/>
<path d="M1698.5 994.5 L1704.5 991.5 L1710.5 990.7 L1713.5 994.5 L1710.5 1002.0 L1706.0 1008.0 L1703.0 1011.0 L1700.0 1005.0 Z" fill="#ffaa00"/>
<path d="M1727.7 994.5 L1733.0 988.5 L1738.2 984.7 L1741.2 990.0 L1742.7 997.5 L1743.5 1008.0 L1739.0 1011.0 L1733.0 1003.5 Z" fill="#ffaa00"/>
<path d="M1736.0 1021.5 L1738.2 1020.7 L1738.7 1026.0 L1736.3 1026.0 Z" fill="#ffff00"/>
</g>
</g>
<g clip-path="url(#cT11)" fill="none" stroke="#1e90ff" stroke-width="1.7" stroke-linejoin="round" stroke-linecap="round">
<path d="M972.0 381.0 L969.0 383.0 L965.0 392.0 L960.0 400.0 L956.0 406.0 L954.0 404.0 L946.0 400.0 L940.0 395.0 L932.0 394.0 L926.0 398.0 L920.0 400.0 L919.0 410.0 L923.0 420.0 L920.0 428.0 L928.0 434.0 L932.0 444.0 L938.0 446.0 L946.0 439.0 L956.0 438.0 L964.0 439.0 L969.0 448.0"/>
<path d="M978.0 383.0 L977.0 392.0 L980.0 400.0"/>
<path d="M863.0 444.0 L856.0 452.0 L848.0 464.0 L844.0 476.0 L849.0 488.0 L854.0 498.0 L857.0 503.0"/>
<path d="M1030.0 394.0 L1035.0 402.0 L1034.0 414.0 L1030.0 420.0 L1028.0 428.0 L1025.0 434.0 L1016.0 432.0 L1008.0 420.0 L1002.0 414.0"/>
<path d="M1012.0 436.0 L1020.0 440.0 L1030.0 448.0 L1040.0 456.0 L1048.0 464.0 L1050.0 476.0 L1048.0 480.0"/>
<path d="M1076.0 516.0 L1066.0 512.0 L1062.0 504.0 L1064.0 496.0 L1068.0 484.0 L1070.0 470.0 L1066.0 460.0 L1068.0 450.0 L1080.0 444.0 L1092.0 438.0 L1100.0 432.0 L1110.0 438.0 L1120.0 440.0 L1132.0 442.0 L1140.0 448.0 L1150.0 444.0 L1160.0 442.0 L1170.0 439.0 L1180.0 438.0"/>
<path d="M1080.0 500.0 L1086.0 492.0 L1096.0 488.0 L1108.0 492.0 L1120.0 496.0 L1132.0 494.0 L1140.0 488.0 L1150.0 482.0 L1160.0 480.0 L1170.0 480.0 L1180.0 478.0"/>
<path d="M1146.0 486.0 L1140.0 500.0 L1134.0 512.0 L1126.0 516.0 L1128.0 528.0 L1124.0 540.0 L1120.0 550.0 L1118.0 566.0 L1110.0 560.0 L1100.0 552.0 L1092.0 544.0"/>
<path d="M958.0 520.0 L964.0 532.0 L972.0 540.0 L982.0 546.0 L990.0 552.0 L998.0 560.0 L1008.0 562.0 L1016.0 560.0 L1026.0 558.0 L1034.0 550.0 L1042.0 544.0 L1048.0 538.0 L1052.0 536.0 L1058.0 540.0 L1066.0 548.0 L1068.0 552.0"/>
<path d="M1080.0 516.0 L1084.0 524.0 L1078.0 532.0 L1074.0 542.0 L1070.0 552.0"/>
<path d="M1088.0 556.0 L1082.0 562.0 L1084.0 572.0 L1080.0 584.0 L1082.0 596.0 L1088.0 604.0 L1090.0 616.0 L1086.0 624.0"/>
<path d="M1102.0 582.0 L1120.0 583.0 L1132.0 585.0 L1146.0 583.0 L1156.0 576.0 L1170.0 578.0 L1180.0 580.0"/>
<path d="M1020.0 588.0 L1025.0 589.0 L1030.0 598.0 L1036.0 602.0 L1040.0 610.0 L1036.0 616.0 L1030.0 617.0 L1026.0 610.0 L1022.0 600.0 Z" fill="#8fd0ff" stroke-width="1"/>
<path d="M1048.0 570.0 L1052.0 576.0 L1056.0 572.0 L1058.0 582.0 L1048.0 586.0 L1042.0 592.0 L1038.0 600.0"/>
<path d="M808.0 548.0 L812.0 552.0 L818.0 544.0 L826.0 538.0 L834.0 538.0 L840.0 540.0"/>
<path d="M838.0 556.0 L835.0 568.0 L830.0 576.0 L831.0 596.0 L828.0 612.0 L832.0 628.0 L834.0 644.0 L832.0 660.0"/>
<path d="M836.0 568.0 L848.0 566.0 L860.0 564.0 L866.0 560.0 L872.0 566.0 L878.0 570.0"/>
<path d="M856.0 526.0 L864.0 530.0 L878.0 537.0"/>
<path d="M866.0 623.0 L871.0 622.0 L871.0 630.0 L868.0 631.0 Z" fill="#8fd0ff" stroke-width="1"/>
<path d="M1100.0 628.0 L1092.0 632.0 L1082.0 640.0 L1076.0 648.0 L1072.0 660.0"/>
<path d="M1124.0 660.0 L1136.0 654.0 L1156.0 649.0"/>
</g>
<g clip-path="url(#cT12)" fill="none" stroke="#1e90ff" stroke-width="1.7" stroke-linejoin="round" stroke-linecap="round">
<path d="M1180.0 438.0 L1192.0 440.0 L1202.0 439.0 L1210.0 442.0 L1214.0 444.0 L1222.0 439.0 L1230.0 442.0 L1238.0 444.0 L1240.0 452.0 L1246.0 458.0 L1262.0 459.0 L1268.0 468.0 L1272.0 480.0 L1274.0 492.0 L1276.0 504.0 L1278.0 516.0 L1274.0 530.0 L1268.0 535.0 L1274.0 540.0 L1284.0 548.0 L1292.0 556.0 L1294.0 566.0 L1300.0 574.0 L1308.0 582.0"/>
<path d="M1260.0 535.0 L1268.0 535.0"/>
<path d="M1180.0 472.0 L1190.0 468.0 L1200.0 458.0 L1208.0 448.0 L1212.0 444.0"/>
<path d="M1180.0 583.0 L1188.0 592.0 L1200.0 604.0 L1212.0 612.0 L1226.0 620.0 L1240.0 626.0 L1256.0 628.0 L1270.0 636.0 L1284.0 644.0 L1298.0 646.0 L1310.0 640.0 L1320.0 632.0 L1332.0 626.0 L1344.0 624.0 L1350.0 626.0 L1354.0 634.0 L1358.0 635.0"/>
<path d="M1376.0 473.0 L1377.0 464.0 L1384.0 462.0 L1392.0 465.0 L1400.0 468.0 L1406.0 472.0 L1407.0 480.0 L1400.0 486.0 L1392.0 488.0 L1388.0 496.0 L1389.0 508.0 L1396.0 518.0 L1406.0 522.0 L1412.0 530.0 L1418.0 535.0"/>
<path d="M1372.0 452.0 L1378.0 446.0 L1384.0 444.0 L1382.0 451.0 L1375.0 454.0 Z" fill="#8fd0ff" stroke-width="1"/>
<path d="M1399.0 494.0 L1403.0 492.0 L1405.0 497.0 L1401.0 500.0 Z" fill="#8fd0ff" stroke-width="1"/>
<path d="M1371.0 426.0 L1375.0 412.0 L1380.0 413.0 L1382.0 426.0 Z" fill="#8fd0ff" stroke-width="1"/>
<path d="M1482.0 499.0 L1476.0 506.0 L1475.0 518.0 L1479.0 528.0 L1480.0 538.0 L1474.0 546.0 L1475.0 556.0 L1482.0 564.0 L1484.0 566.0 L1478.0 573.0 L1468.0 574.0 L1458.0 578.0 L1454.0 580.0"/>
<path d="M1502.0 545.0 L1505.0 544.0 L1506.0 554.0 L1503.0 556.0 Z" fill="#8fd0ff" stroke-width="1"/>
<path d="M1511.0 618.0 L1500.0 622.0 L1491.0 624.0 L1487.0 636.0 L1480.0 646.0 L1474.0 656.0 L1471.0 660.0"/>
</g>
<g clip-path="url(#cT13)" fill="none" stroke="#1e90ff" stroke-width="1.7" stroke-linejoin="round" stroke-linecap="round">
<path d="M1783.0 478.0 L1787.0 481.0 L1790.0 500.0 L1792.0 516.0"/>
<path d="M1784.0 478.4 L1788.0 481.6 L1790.8 500.0"/>
<path d="M1768.0 537.0 L1780.0 537.0 L1789.0 538.0 L1791.0 552.0 L1793.0 566.0 L1796.0 580.0 L1797.0 584.0"/>
<path d="M1757.0 534.0 L1762.0 538.0 L1768.0 537.6 L1766.0 552.0 L1760.0 558.0 L1756.0 564.0 L1750.0 566.0 L1740.0 568.0"/>
<path d="M1812.0 535.0 L1814.0 548.0 L1816.0 558.0 L1822.0 568.0"/>
<path d="M1742.0 573.0 L1750.0 580.0 L1758.0 584.0 L1754.0 596.0 L1744.0 600.0 L1740.0 606.0 L1740.0 616.0 L1746.0 622.0 L1754.0 626.0 L1760.0 632.0"/>
<path d="M1696.0 574.0 L1704.0 576.0 L1714.0 580.0"/>
<path d="M1694.0 582.0 L1688.0 590.0 L1682.0 596.0 L1679.0 600.0 L1684.0 608.0 L1688.0 614.0 L1680.0 624.0 L1672.0 620.0"/>
<path d="M1728.0 548.0 L1733.0 558.0"/>
<path d="M1731.0 547.0 L1738.0 557.0"/>
<path d="M1834.0 440.0 L1846.0 432.0 L1856.0 438.0 L1870.0 440.0 L1868.0 452.0 L1870.0 464.0"/>
<path d="M1838.0 400.0 L1834.0 420.0"/>
<path d="M1826.0 503.0 L1830.0 504.0 L1833.0 510.0 L1829.0 509.0 Z" fill="#8fd0ff" stroke-width="1"/>
</g>
<g clip-path="url(#cT21)" fill="none" stroke="#1e90ff" stroke-width="1.7" stroke-linejoin="round" stroke-linecap="round">
<path d="M957.0 729.0 L966.0 726.0 L969.0 721.0 L970.0 729.0 L980.0 740.0 L984.0 743.0 L988.0 734.0 L998.0 731.0 L1006.0 729.0 L1012.0 736.0 L1018.0 741.0 L1022.0 728.0 L1030.0 718.0 L1038.0 715.0 L1048.0 713.0 L1060.0 700.0 L1070.0 688.0 L1080.0 678.0 L1088.0 670.0 L1092.0 666.0"/>
<path d="M1066.0 660.0 L1070.0 672.0 L1068.0 684.0 L1070.0 688.0"/>
<path d="M948.0 820.0 L960.0 820.0 L974.0 816.0 L987.0 818.0 L988.0 810.0 L1000.0 809.0 L1016.0 807.0 L1028.0 806.0 L1037.0 803.0 L1044.0 808.0 L1052.0 816.0 L1060.0 813.0 L1065.0 808.0"/>
<path d="M998.0 812.0 L1008.0 820.0 L1020.0 823.0 L1030.0 826.0 L1038.0 822.0 L1046.0 826.0 L1056.0 832.0 L1064.0 831.0 L1065.0 838.0"/>
<path d="M1152.0 726.0 L1153.0 740.0 L1148.0 752.0 L1140.0 768.0 L1132.0 780.0 L1124.0 796.0 L1118.0 812.0 L1110.0 828.0 L1104.0 840.0 L1108.0 848.0 L1114.0 858.0 L1118.0 867.0"/>
<path d="M1153.0 764.0 L1150.0 772.0 L1154.0 780.0 L1164.0 788.0 L1172.0 800.0 L1177.0 812.0 L1174.0 828.0 L1172.0 844.0 L1170.0 856.0 L1176.0 868.0"/>
<path d="M1116.0 708.0 L1128.0 709.0 L1138.0 712.0 L1148.0 718.0 L1152.0 726.0"/>
<path d="M1070.0 841.0 L1080.0 836.0 L1088.0 830.0 L1089.0 818.0 L1089.0 815.0"/>
<path d="M834.0 660.0 L842.0 672.0 L848.0 684.0 L860.0 680.0 L870.0 675.0 L876.0 669.0"/>
<path d="M848.0 684.0 L854.0 697.0 L860.0 696.0 L864.0 688.0 L872.0 686.0 L886.0 696.0"/>
<path d="M916.0 791.0 L920.0 792.0 L925.0 800.0 L922.0 804.0 L918.0 798.0 Z" fill="#8fd0ff" stroke-width="1"/>
<path d="M1144.0 672.0 L1150.0 686.0 L1156.0 696.0 L1168.0 698.0 L1180.0 700.0"/>
<path d="M1178.0 738.0 L1177.0 752.0 L1180.0 764.0"/>
</g>
<g clip-path="url(#cT22)" fill="none" stroke="#1e90ff" stroke-width="1.7" stroke-linejoin="round" stroke-linecap="round">
<path d="M1180.0 702.0 L1200.0 706.0 L1220.0 708.0 L1236.0 714.0 L1252.0 713.0 L1266.0 720.0 L1280.0 724.0 L1288.0 716.0 L1300.0 706.0 L1312.0 710.0 L1324.0 718.0 L1330.0 728.0 L1334.0 740.0 L1338.0 754.0 L1348.0 764.0 L1360.0 772.0 L1372.0 780.0 L1380.0 788.0 L1392.0 787.0 L1400.0 784.0 L1410.0 785.0 L1420.0 790.0 L1430.0 798.0 L1440.0 808.0 L1450.0 816.0 L1460.0 822.0 L1466.0 826.0"/>
<path d="M1180.0 776.0 L1192.0 780.0 L1208.0 778.0 L1220.0 780.0 L1232.0 780.0 L1246.0 772.0 L1256.0 769.0 L1272.0 772.0 L1284.0 774.0 L1292.0 769.0 L1300.0 778.0 L1308.0 786.0 L1320.0 792.0 L1332.0 798.0 L1344.0 800.0 L1356.0 794.0 L1368.0 790.0 L1380.0 788.0"/>
<path d="M1200.0 797.0 L1216.0 798.0 L1232.0 792.0 L1244.0 802.0 L1256.0 806.0 L1272.0 808.0"/>
<path d="M1336.0 820.0 L1344.0 819.0 L1346.0 826.0 L1340.0 828.0 Z" fill="#8fd0ff" stroke-width="1"/>
<path d="M1192.0 800.0 L1212.0 808.0 L1230.0 814.0 L1240.0 820.0 L1246.0 836.0 L1252.0 842.0 L1260.0 844.0 L1268.0 838.0 L1278.0 833.0 L1288.0 838.0 L1298.0 848.0 L1308.0 858.0 L1320.0 870.0 L1328.0 882.0 L1336.0 898.0 L1344.0 912.0 L1352.0 926.0 L1356.0 940.0 L1362.0 946.0 L1368.0 948.0 L1367.0 958.0"/>
<path d="M1180.0 874.0 L1192.0 884.0 L1206.0 894.0 L1220.0 900.0 L1226.0 912.0 L1230.0 926.0 L1234.0 934.0"/>
<path d="M1387.0 686.0 L1396.0 683.0 L1408.0 681.0 L1417.0 679.0 L1423.0 684.0 L1432.0 694.0 L1440.0 699.0 L1448.0 697.0 L1458.0 696.0 L1466.0 698.0 L1472.0 693.0 L1475.0 691.0"/>
<path d="M1406.0 836.0 L1408.0 842.0 L1405.0 850.0 L1408.0 862.0 L1414.0 872.0 L1424.0 882.0 L1434.0 890.0 L1442.0 899.0 L1448.0 897.0 L1456.0 896.0"/>
<path d="M1460.0 904.0 L1466.0 916.0 L1476.0 924.0 L1488.0 928.0 L1498.0 930.0 L1504.0 936.0"/>
<path d="M1525.0 736.0 L1528.0 746.0 L1531.0 756.0 L1530.0 768.0 L1529.0 780.0 L1524.0 788.0"/>
<path d="M1526.0 737.0 L1529.2 746.0 L1532.0 754.0"/>
<path d="M1578.0 812.0 L1572.0 826.0 L1569.0 840.0 L1575.0 852.0 L1560.0 858.0 L1552.0 872.0 L1546.0 884.0 L1542.0 896.0 L1541.0 906.0"/>
<path d="M1532.0 794.0 L1548.0 796.0 L1560.0 798.0 L1570.0 802.0 L1578.0 790.0"/>
</g>
<g clip-path="url(#cT23)" fill="none" stroke="#1e90ff" stroke-width="1.7" stroke-linejoin="round" stroke-linecap="round">
<path d="M1580.0 782.0 L1592.0 778.0 L1598.0 764.0 L1606.0 760.0 L1616.0 754.0 L1628.0 744.0 L1640.0 736.0 L1652.0 728.0 L1668.0 720.0"/>
<path d="M1580.0 808.0 L1590.0 804.0 L1602.0 800.0 L1616.0 796.0 L1620.0 790.0"/>
<path d="M1622.0 788.0 L1628.0 792.0 L1624.0 804.0 L1616.0 816.0 L1608.0 826.0 L1600.0 832.0 L1602.0 840.0"/>
<path d="M1610.0 898.0 L1608.0 910.0 L1611.0 922.0"/>
<path d="M1654.0 804.0 L1660.0 809.0 L1658.0 814.0 L1654.0 810.0 Z" fill="#8fd0ff" stroke-width="1"/>
<path d="M1668.0 746.0 L1680.0 738.0 L1688.0 736.0 L1692.0 746.0 L1698.0 756.0 L1704.0 768.0 L1710.0 780.0 L1716.0 790.0 L1724.0 798.0 L1731.0 802.0"/>
<path d="M1708.0 686.0 L1714.0 676.0 L1720.0 666.0 L1722.0 660.0"/>
<path d="M1700.0 670.0 L1704.0 660.0"/>
<path d="M1696.0 930.0 L1704.0 936.0 L1710.0 944.0 L1716.0 954.0 L1720.0 960.0"/>
</g>
<g clip-path="url(#cT32)" fill="none" stroke="#1e90ff" stroke-width="1.7" stroke-linejoin="round" stroke-linecap="round">
</g>
<g clip-path="url(#cT33)" fill="none" stroke="#1e90ff" stroke-width="1.7" stroke-linejoin="round" stroke-linecap="round">
<path d="M1715.7 982.5 L1719.5 977.2 L1724.0 978.7 L1727.0 984.0 L1724.7 990.0 L1719.5 990.7 L1715.0 987.0 Z" fill="#8fd0ff" stroke-width="1"/>
</g>
<g clip-path="url(#cT11)" fill="none" stroke="#000" stroke-linejoin="round" stroke-linecap="round">
<path d="M844.4 423.0 L852.0 420.4 L860.0 426.0 L863.0 434.0 L862.0 443.0 L874.0 446.0 L888.0 447.0 L904.0 451.0 L920.0 451.0 L940.0 454.0 L956.0 457.6 L971.0 460.0" stroke-width="3.0"/>
<path d="M986.0 382.4 L972.0 458.0" stroke-width="1.8"/>
<path d="M972.0 458.0 L975.0 464.0 L976.0 472.0 L970.0 480.0 L966.0 488.0 L958.0 496.0 L956.0 506.0 L960.0 510.0 L956.0 516.0" stroke-width="3.0"/>
<path d="M956.0 516.0 L947.0 562.0" stroke-width="1.8"/>
<path d="M1001.0 386.4 L1000.0 408.0 L1002.0 424.0 L1010.0 438.0 L1015.0 448.0 L1019.0 455.0 L1016.0 464.0 L1013.0 470.0 L1012.0 480.0 L1019.0 483.0 L1023.0 480.0 L1026.0 492.0 L1031.0 504.0 L1035.0 506.0 L1036.0 517.0 L1054.0 516.0 L1069.0 514.0 L1074.4 515.0" stroke-width="2.8"/>
<path d="M1076.0 507.0 L1058.0 613.0" stroke-width="1.8"/>
<path d="M1076.0 507.0 L1180.0 521.0" stroke-width="1.8"/>
<path d="M1058.0 613.0 L1096.0 619.0 L1180.0 630.0" stroke-width="1.8"/>
<path d="M947.0 562.0 L1002.0 577.0 L1062.6 585.4" stroke-width="1.8"/>
<path d="M806.0 528.0 L888.0 552.0 L947.0 562.0" stroke-width="1.8"/>
<path d="M888.0 552.0 L870.0 619.0 L871.0 628.0 L891.0 660.0" stroke-width="1.8"/>
<path d="M1002.0 577.0 L986.0 660.0" stroke-width="1.8"/>
<path d="M1096.0 619.0 L1091.6 660.0" stroke-width="1.8"/>
<path d="M886.0 357.0 L920.0 366.0 L952.0 374.0 L986.0 382.4 L1001.0 386.4 L1040.0 395.0 L1080.0 402.0 L1120.0 408.0 L1150.0 412.0 L1180.0 415.6" stroke-width="2.3"/>
<path d="M808.0 660.0 L810.0 652.0 L807.0 644.0 L802.0 636.0 L799.0 620.0 L794.0 608.0 L795.0 598.0 L796.0 584.0 L790.0 572.0 L793.0 562.0 L801.0 559.0 L804.0 546.0 L806.0 528.0 L807.0 518.0 L807.6 506.0 L814.0 496.0 L822.0 484.0 L827.0 470.0 L833.0 458.0 L839.0 444.0 L843.6 428.0 L845.0 420.0 L849.0 402.0 L847.0 392.0 L848.0 376.0 L847.0 366.0 L850.4 361.6 L855.0 367.0 L864.0 371.0 L874.0 374.4 L880.0 370.0 L882.0 360.0 L886.0 357.0" stroke-width="2.3"/>
<path d="M875.0 363.0 L884.0 361.0 L890.4 366.0 L889.0 377.0 L891.0 385.0 L884.4 390.0 L882.4 400.0 L876.4 405.6 L869.0 404.4 L868.0 397.0 L874.0 389.0 L879.0 381.0 L877.6 372.0 Z" fill="#000" stroke-width="0.8"/>
<path d="M807.0 641.0 L815.0 637.0 L829.0 642.4 L831.6 646.0 L821.0 644.8 L815.2 649.0 L814.4 656.0 L816.0 660.0 L810.0 660.0 L811.0 650.0 Z" fill="#000" stroke-width="0.8"/>
</g>
<g clip-path="url(#cT12)" fill="none" stroke="#000" stroke-linejoin="round" stroke-linecap="round">
<path d="M1214.0 418.4 L1208.0 499.0 L1205.6 521.0 L1201.0 577.0 L1197.0 628.0" stroke-width="1.8"/>
<path d="M1180.0 521.0 L1205.6 521.0" stroke-width="1.8"/>
<path d="M1208.0 499.0 L1276.0 502.4 L1347.0 504.4" stroke-width="1.8"/>
<path d="M1336.0 424.0 L1338.0 440.0 L1342.0 460.0 L1343.0 480.0 L1346.0 496.0 L1347.0 504.4 L1342.0 512.0 L1345.0 516.0 L1350.0 520.0" stroke-width="2.6"/>
<path d="M1350.0 520.0 L1350.0 568.0" stroke-width="1.8"/>
<path d="M1201.0 577.0 L1240.0 579.6 L1284.0 581.0 L1308.0 583.0" stroke-width="1.8"/>
<path d="M1308.0 583.0 L1318.0 588.0 L1332.0 587.0 L1342.0 593.0 L1348.0 598.0" stroke-width="2.6"/>
<path d="M1350.0 568.0 L1346.0 572.0 L1348.0 586.0 L1345.0 592.0 L1348.0 598.0 L1354.0 606.0 L1356.0 620.0 L1359.0 634.0 L1361.0 648.0 L1366.0 660.0" stroke-width="2.6"/>
<path d="M1350.0 568.0 L1449.0 566.0" stroke-width="1.8"/>
<path d="M1428.0 482.0 L1428.0 494.0 L1420.0 506.0 L1417.0 514.0 L1420.0 520.0 L1419.0 532.0 L1426.0 538.0 L1436.0 546.0 L1446.0 555.0 L1449.0 566.0 L1452.0 578.0 L1457.0 588.0 L1464.0 596.0 L1471.0 602.0 L1472.0 610.0 L1464.0 620.0 L1457.0 626.0 L1458.0 636.0 L1452.0 646.0 L1448.0 660.0" stroke-width="2.6"/>
<path d="M1466.0 593.0 L1517.6 589.6" stroke-width="1.8"/>
<path d="M1364.0 647.0 L1450.0 644.0" stroke-width="1.8"/>
<path d="M1180.0 628.0 L1197.0 628.0 L1236.0 633.0 L1237.0 660.0" stroke-width="1.8"/>
<path d="M1529.0 609.0 L1530.4 660.0" stroke-width="1.8"/>
<path d="M1529.0 608.4 L1580.0 603.6" stroke-width="1.8"/>
<path d="M1464.0 484.0 L1480.0 492.0 L1496.0 498.0 L1508.0 503.0 L1513.0 512.0 L1517.0 519.0 L1524.0 506.0 L1528.0 498.0 L1538.0 494.0 L1550.0 489.0 L1560.0 486.0 L1570.0 488.0 L1580.0 486.4" stroke-width="2.4"/>
<path d="M1512.0 535.0 L1518.0 540.0 L1516.0 552.0 L1515.0 564.0 L1514.0 576.0 L1517.0 590.0 L1522.0 604.0 L1529.0 610.0 L1538.0 609.0 L1545.0 604.0 L1549.0 586.0 L1547.0 572.0 L1542.0 560.0 L1540.0 548.0 L1543.0 536.0 L1547.0 520.0 L1550.0 510.0 L1554.0 500.0 L1560.0 494.0 L1572.0 490.0 L1580.0 489.0" stroke-width="2.3"/>
<path d="M1180.0 415.6 L1214.0 418.4 L1336.0 424.0 L1370.0 422.0 L1372.0 414.0 L1380.0 414.0 L1382.0 429.0 L1392.0 431.0 L1404.0 433.0 L1416.0 436.0 L1423.0 442.0 L1428.0 439.0 L1438.0 444.0 L1446.0 442.0 L1456.0 444.0 L1464.0 442.0 L1473.0 445.0 L1468.0 449.0 L1456.0 458.0 L1444.0 468.0 L1434.0 476.0 L1428.0 482.0 L1438.0 478.4 L1448.0 474.4 L1457.0 469.6 L1462.0 470.4 L1460.0 480.0 L1464.0 484.0 L1476.0 478.0 L1486.0 472.0 L1494.0 468.0 L1500.0 460.0 L1508.0 456.0 L1512.0 458.0 L1504.0 464.0 L1498.0 472.0 L1504.0 470.0 L1516.0 478.0 L1524.0 483.0 L1538.0 478.0 L1552.0 473.0 L1560.0 470.0 L1561.0 476.0 L1570.0 478.0 L1578.0 476.0 L1580.0 477.6" stroke-width="2.3"/>
<path d="M1478.0 448.0 L1488.0 442.0 L1497.0 436.0 L1496.0 439.0 L1488.0 446.0 L1480.0 450.0 Z" fill="#000" stroke-width="0.8"/>
<path d="M1450.0 476.0 L1457.0 470.0 L1462.0 469.6 L1460.0 480.0 L1455.0 478.0 L1453.0 484.0 Z" fill="#000" stroke-width="0.8"/>
<path d="M1510.0 535.0 L1516.0 524.0 L1524.0 510.0 L1528.0 502.0 L1529.0 505.0 L1524.0 514.0 L1518.0 526.0 L1512.0 537.0 Z" fill="#000" stroke-width="0.8"/>
<path d="M1547.0 498.0 L1554.0 496.0 L1556.0 500.0 L1552.0 506.0 L1558.0 510.0 L1556.0 520.0 L1552.0 524.0 L1550.0 516.0 L1546.0 514.0 L1548.0 508.0 Z" fill="#000" stroke-width="0.8"/>
</g>
<g clip-path="url(#cT13)" fill="none" stroke="#000" stroke-linejoin="round" stroke-linecap="round">
<path d="M1580.0 603.6 L1608.0 600.0" stroke-width="1.8"/>
<path d="M1580.0 604.0 L1586.0 660.0" stroke-width="1.8"/>
<path d="M1664.0 586.0 L1671.0 644.0" stroke-width="1.8"/>
<path d="M1676.0 580.0 L1678.0 582.0 L1692.0 579.0 L1764.0 565.6" stroke-width="1.8"/>
<path d="M1764.0 565.6 L1770.0 572.0 L1778.0 576.0 L1775.0 586.0 L1773.0 598.0 L1780.0 606.0 L1786.0 612.0 L1778.0 620.0 L1775.0 628.0 L1768.0 630.0" stroke-width="2.4"/>
<path d="M1671.0 644.0 L1768.0 628.0" stroke-width="1.8"/>
<path d="M1778.0 576.0 L1796.0 587.0 L1800.0 590.0" stroke-width="1.8"/>
<path d="M1782.0 478.0 L1787.0 500.0 L1792.0 516.0 L1798.0 532.0 L1800.0 540.0 L1802.0 556.0 L1800.0 570.0 L1800.0 584.0" stroke-width="1.8"/>
<path d="M1816.0 470.0 L1817.0 480.0 L1810.0 492.0 L1812.0 504.0 L1810.0 516.0 L1811.0 532.0 L1812.0 535.0" stroke-width="2.2"/>
<path d="M1818.0 463.0 L1822.0 464.0 L1844.0 516.0 L1845.0 521.0" stroke-width="1.8"/>
<path d="M1800.0 537.0 L1812.0 535.0 L1838.0 528.0 L1844.0 524.0" stroke-width="1.8"/>
<path d="M1801.0 556.0 L1836.0 550.0" stroke-width="1.8"/>
<path d="M1836.0 550.0 L1837.0 562.0" stroke-width="1.8"/>
<path d="M1836.0 550.0 L1842.0 550.0 L1844.0 558.0" stroke-width="1.8"/>
<path d="M1800.0 570.0 L1806.0 580.0" stroke-width="1.8"/>
<path d="M1768.0 628.0 L1776.0 660.0" stroke-width="1.8"/>
<path d="M1720.0 635.6 L1730.4 641.0 L1735.0 650.0 L1744.0 656.0 L1747.0 660.0" stroke-width="2.4"/>
<path d="M1696.0 640.0 L1704.0 648.0 L1700.0 656.0 L1697.0 660.0" stroke-width="2.2"/>
<path d="M1667.4 618.0 L1666.0 636.0 L1668.0 646.0 L1663.0 654.0 L1654.0 660.0" stroke-width="2.4"/>
<path d="M1580.0 477.6 L1586.0 480.0 L1592.0 488.0 L1584.0 490.0 L1580.0 498.0 L1588.0 500.0 L1595.0 506.0 L1599.0 514.0 L1600.0 524.0 L1597.0 536.0 L1590.0 542.0 L1589.6 548.0 L1596.0 550.4 L1602.0 542.4 L1608.0 537.0 L1615.0 540.0 L1618.0 552.0 L1622.4 564.0 L1621.0 574.0 L1617.0 578.0 L1614.0 588.0 L1610.0 598.0 L1608.0 600.0 L1620.0 601.0 L1626.0 606.0 L1638.0 602.0 L1646.0 596.0 L1654.0 590.0 L1664.0 586.0 L1676.0 580.0 L1686.0 568.0 L1689.0 560.0 L1686.0 552.0 L1687.0 546.0 L1692.0 542.0 L1704.0 539.0 L1720.0 538.0 L1732.0 532.0 L1738.0 527.0 L1734.0 520.0 L1732.0 514.0 L1736.0 508.0 L1740.0 504.0 L1746.0 492.0 L1756.0 484.0 L1782.0 478.0 L1800.0 474.0 L1816.0 470.0 L1818.0 462.0 L1826.0 458.0 L1830.0 444.0 L1831.0 424.0 L1834.0 410.0 L1839.0 395.0 L1844.0 395.0 L1847.0 399.0 L1858.0 393.0 L1868.0 398.0 L1872.0 410.0 L1878.0 428.0 L1886.0 435.0 L1889.0 442.0 L1898.0 444.0 L1901.0 450.0 L1898.0 458.0 L1888.0 464.0 L1880.0 470.0 L1874.0 480.0 L1868.0 484.0 L1860.0 492.0 L1853.0 498.0 L1848.0 508.0 L1845.0 518.0 L1844.0 526.0 L1848.0 530.0 L1846.0 538.0 L1852.0 544.0 L1860.0 548.0 L1868.0 542.0 L1870.0 548.0 L1864.0 554.0 L1856.0 558.0 L1848.0 560.0 L1840.0 558.0 L1836.0 562.0 L1828.0 566.0 L1820.0 570.0 L1812.0 576.0 L1802.0 584.0 L1800.0 590.0 L1796.0 596.0 L1800.0 600.0 L1802.0 614.0 L1800.0 626.0 L1794.0 640.0 L1790.0 652.0 L1788.0 660.0" stroke-width="2.3"/>
<path d="M1800.0 598.0 L1810.0 592.0 L1824.0 584.0 L1836.0 576.0 L1838.0 572.0 L1828.0 574.0 L1816.0 580.0 L1806.0 586.0 L1800.0 592.4 Z" stroke-width="1.6"/>
<path d="M1868.0 468.0 L1876.0 464.0 L1884.0 464.0 L1880.0 472.0 L1874.0 480.0 L1868.0 480.0 Z" fill="#000" stroke-width="0.8"/>
<path d="M1854.0 488.0 L1862.0 484.0 L1860.0 492.0 L1853.0 498.0 Z" fill="#000" stroke-width="0.8"/>
<path d="M1732.0 510.0 L1738.0 508.0 L1736.0 516.0 L1732.0 518.0 Z" fill="#000" stroke-width="0.8"/>
<path d="M1844.0 552.0 L1848.0 548.0 L1852.0 550.0 L1850.0 558.0 L1844.0 558.0 Z" fill="#000" stroke-width="0.8"/>
<path d="M1856.0 540.0 L1864.0 538.0 L1868.0 542.0 L1864.0 548.0 L1866.0 554.0 L1860.0 558.0 L1856.0 562.0 L1854.0 556.0 L1858.0 550.0 Z" fill="#000" stroke-width="0.8"/>
<path d="M1793.0 594.0 L1800.0 590.0 L1802.0 594.0 L1796.0 600.0 Z" fill="#000" stroke-width="0.8"/>
<path d="M1754.0 646.0 L1760.0 636.0 L1767.0 632.0 L1772.0 640.0 L1773.0 660.0 L1756.0 660.0 Z" fill="#000" stroke-width="0.8"/>
<path d="M1618.0 600.0 L1622.0 599.0 L1623.0 604.0 L1619.0 605.0 Z" fill="#000" stroke-width="0.8"/>
<path d="M1580.0 484.0 L1588.0 483.0 L1592.0 488.0 L1586.0 490.4 L1580.0 489.6 Z" fill="#000" stroke-width="0.8"/>
<path d="M1894.0 446.0 L1900.0 446.0 L1901.0 452.0 L1897.0 455.0 Z" fill="#000" stroke-width="0.8"/>
</g>
<g clip-path="url(#cT21)" fill="none" stroke="#000" stroke-linejoin="round" stroke-linecap="round">
<path d="M888.0 660.0 L954.0 755.0" stroke-width="1.8"/>
<path d="M954.0 755.0 L957.0 764.0 L960.0 778.0 L954.0 782.0 L950.0 790.0 L946.0 800.0 L944.0 810.0 L947.0 818.0 L938.0 820.0" stroke-width="2.6"/>
<path d="M977.0 709.0 L973.0 727.0" stroke-width="1.8"/>
<path d="M973.0 727.0 L968.0 728.0 L957.0 727.6 L956.0 740.0 L954.0 755.0" stroke-width="2.6"/>
<path d="M986.0 660.0 L977.0 709.0" stroke-width="1.8"/>
<path d="M977.0 709.0 L1082.0 726.0" stroke-width="1.8"/>
<path d="M1091.6 660.0 L1082.0 726.0" stroke-width="1.8"/>
<path d="M1082.0 726.0 L1062.0 877.0" stroke-width="1.8"/>
<path d="M1082.0 726.0 L1180.0 737.0" stroke-width="1.8"/>
<path d="M1118.0 867.0 L1180.0 869.0" stroke-width="1.8"/>
<path d="M1180.0 946.0 L1172.0 942.0 L1164.0 936.0 L1158.0 928.0 L1155.0 916.0 L1152.0 906.0 L1140.0 894.0 L1132.0 882.0 L1124.0 876.0 L1118.0 867.0 L1083.0 868.0 L1082.0 877.0 L1062.0 877.0 L1014.0 869.0 L938.0 823.0 L937.0 820.0 L888.0 813.0" stroke-width="2.3"/>
<path d="M888.0 813.0 L886.0 800.0 L884.0 790.0 L878.0 780.0 L870.0 774.0 L866.0 766.0 L860.0 762.0 L852.0 758.0 L848.0 750.0 L840.0 746.0 L828.0 743.0 L825.0 740.0 L828.0 730.0 L827.0 720.0 L822.0 712.0 L818.0 702.0 L812.0 692.0 L810.0 680.0 L816.0 676.0 L812.0 668.0 L806.0 660.0" stroke-width="2.3"/>
<path d="M825.0 754.0 L836.0 756.0 L848.0 760.0 L847.0 762.0 L834.0 760.0 L826.0 757.0 Z" fill="#000" stroke-width="0.8"/>
<path d="M839.0 779.0 L843.0 779.6 L842.0 782.4 L839.0 782.0 Z" fill="#000" stroke-width="0.8"/>
<path d="M861.0 780.0 L866.0 782.0 L867.0 786.0 L863.0 785.0 Z" fill="#000" stroke-width="0.8"/>
<path d="M857.0 792.0 L861.0 793.0 L862.0 798.0 L858.4 798.0 Z" fill="#000" stroke-width="0.8"/>
<path d="M851.0 775.0 L853.0 775.6 L852.4 777.6 L850.8 777.2 Z" fill="#000" stroke-width="0.8"/>
</g>
<g clip-path="url(#cT22)" fill="none" stroke="#000" stroke-linejoin="round" stroke-linecap="round">
<path d="M1180.0 737.0 L1210.0 739.0 L1387.0 746.0" stroke-width="1.8"/>
<path d="M1233.0 660.0 L1231.0 739.0" stroke-width="1.8"/>
<path d="M1233.0 661.0 L1370.0 661.0" stroke-width="1.8"/>
<path d="M1210.0 739.0 L1200.0 870.0" stroke-width="1.8"/>
<path d="M1180.0 869.0 L1200.0 870.0" stroke-width="1.8"/>
<path d="M1208.0 754.0 L1272.0 755.6 L1272.0 810.0" stroke-width="1.8"/>
<path d="M1272.0 810.0 L1280.0 814.0 L1292.0 818.0 L1304.0 820.0 L1316.0 824.0 L1328.0 828.0 L1340.0 827.0 L1350.0 831.0 L1360.0 830.0 L1372.0 826.0 L1380.0 830.0 L1388.0 834.0 L1392.0 836.0" stroke-width="2.4"/>
<path d="M1370.0 660.0 L1375.0 666.0 L1380.0 672.0 L1379.0 680.0 L1387.0 686.0" stroke-width="2.4"/>
<path d="M1387.0 686.0 L1387.0 746.0 L1389.0 756.0 L1392.0 836.0 L1401.0 836.0 L1402.0 848.0" stroke-width="1.8"/>
<path d="M1389.0 756.0 L1484.0 753.0 L1486.0 760.0 L1480.0 768.0 L1489.0 769.0" stroke-width="1.8"/>
<path d="M1448.0 660.0 L1454.0 670.0 L1464.0 680.0 L1470.0 690.0 L1476.0 694.0 L1474.0 704.0 L1484.0 714.0 L1492.0 720.0 L1498.0 734.0 L1502.0 744.0 L1498.0 752.0 L1495.0 760.0 L1489.0 772.0 L1486.0 784.0 L1480.0 796.0 L1476.0 808.0 L1468.0 818.0 L1464.0 832.0 L1466.0 848.0 L1470.0 860.0 L1472.0 868.0 L1466.0 878.0 L1460.0 890.0 L1459.0 900.0" stroke-width="2.6"/>
<path d="M1502.0 744.0 L1512.0 734.0 L1520.0 726.0 L1524.0 716.0 L1528.0 712.0 L1540.0 708.0 L1552.0 704.0 L1560.0 702.0 L1568.0 694.0 L1578.0 686.0 L1580.0 680.0" stroke-width="2.6"/>
<path d="M1530.0 660.0 L1532.0 676.0 L1532.0 690.0 L1528.0 712.0" stroke-width="2.4"/>
<path d="M1500.0 752.0 L1536.0 748.0 L1580.0 742.0" stroke-width="1.8"/>
<path d="M1486.0 792.0 L1530.0 788.0 L1580.0 784.0" stroke-width="1.8"/>
<path d="M1530.0 788.0 L1528.0 820.0 L1532.0 914.0" stroke-width="1.8"/>
<path d="M1402.0 848.0 L1466.0 847.0" stroke-width="1.8"/>
<path d="M1402.0 848.0 L1400.0 872.0 L1406.0 884.0 L1410.0 896.0 L1414.0 906.0 L1412.0 920.0 L1410.0 937.0" stroke-width="2.4"/>
<path d="M1459.0 901.0 L1500.0 899.0" stroke-width="1.8"/>
<path d="M1500.0 899.0 L1502.0 910.0 L1508.0 920.0 L1510.0 928.0" stroke-width="2.4"/>
<path d="M1550.0 897.0 L1580.0 893.0" stroke-width="1.8"/>
<path d="M1550.0 897.0 L1552.0 906.0" stroke-width="1.8"/>
<path d="M1384.0 950.4 L1380.0 957.0 L1372.0 964.8 L1360.0 969.0 L1350.0 973.0 L1344.0 977.0 L1340.0 980.8" stroke-width="3.4"/>
<path d="M1580.0 911.0 L1570.0 913.0 L1560.0 915.0 L1554.0 914.0 L1552.4 906.4 L1550.0 915.0 L1544.0 916.0 L1542.4 906.4 L1540.0 917.0 L1534.0 918.0 L1524.0 918.0 L1518.0 920.0 L1512.0 924.0 L1508.0 930.0 L1516.0 936.0 L1524.0 940.0 L1520.0 950.0 L1512.0 954.0 L1508.0 948.0 L1500.0 948.0 L1492.0 952.0 L1484.0 955.0 L1476.0 953.0 L1468.0 949.0 L1464.0 942.0 L1456.0 939.0 L1448.0 938.0 L1440.0 940.0 L1430.0 938.0 L1420.0 936.0 L1410.0 937.0 L1400.0 940.0 L1392.0 944.0 L1384.0 950.0 L1380.0 956.0 L1372.0 964.0 L1360.0 968.0 L1350.0 972.0 L1344.0 976.0 L1340.0 980.0" stroke-width="2.3"/>
<path d="M1257.0 980.0 L1252.0 966.0 L1248.0 954.0 L1240.0 944.0 L1232.0 936.0 L1226.0 930.0 L1212.0 928.0 L1204.0 934.0 L1198.0 944.0 L1192.0 952.0 L1186.0 950.0 L1180.0 946.0" stroke-width="2.3"/>
<path d="M1500.0 927.0 L1508.0 921.0 L1512.0 924.4 L1508.4 930.4 L1505.6 938.4 L1501.2 934.4 Z" fill="#000" stroke-width="0.8"/>
<path d="M1511.0 948.0 L1520.0 950.4 L1524.4 940.4 L1518.0 943.6 L1514.4 939.0 L1510.0 942.0 Z" fill="#000" stroke-width="0.8"/>
<path d="M1508.0 948.0 L1513.0 950.0 L1512.0 954.4 L1508.4 952.0 Z" fill="#000" stroke-width="0.8"/>
<path d="M1466.0 946.0 L1476.0 948.0 L1484.0 951.0 L1492.0 949.0 L1500.0 948.0 L1492.0 953.0 L1484.0 955.6 L1476.0 953.6 L1468.0 950.0 Z" fill="#000" stroke-width="0.8"/>
<path d="M1446.0 936.0 L1454.0 935.0 L1459.0 939.0 L1452.0 940.0 Z" fill="#000" stroke-width="0.8"/>
<path d="M1381.0 940.0 L1386.0 938.0 L1388.0 944.0 L1384.0 950.0 L1381.0 946.0 Z" fill="#000" stroke-width="0.8"/>
<path d="M1338.0 977.0 L1346.0 972.0 L1354.0 969.0 L1350.0 973.0 L1343.0 978.0 L1340.0 980.0 L1337.0 980.0 Z" fill="#000" stroke-width="0.8"/>
</g>
<g clip-path="url(#cT23)" fill="none" stroke="#000" stroke-linejoin="round" stroke-linecap="round">
<path d="M1580.0 742.0 L1620.0 737.0 L1661.0 733.0 L1780.0 710.0" stroke-width="1.8"/>
<path d="M1747.0 660.0 L1748.4 665.0 L1759.0 674.0 L1765.0 684.4 L1772.4 699.4 L1780.0 710.0" stroke-width="2.4"/>
<path d="M1580.0 684.0 L1586.0 682.0 L1592.0 672.0 L1600.0 678.0 L1612.0 680.0 L1624.0 678.0 L1634.0 684.0 L1636.0 692.0 L1642.0 702.0 L1650.0 710.0 L1656.0 714.0 L1668.0 712.0 L1680.0 702.0 L1686.0 694.0 L1690.0 686.0 L1693.6 676.0 L1695.0 660.0" stroke-width="2.2"/>
<path d="M1650.0 710.0 L1640.0 720.0 L1630.0 730.0 L1620.0 737.0" stroke-width="1.8"/>
<path d="M1588.0 660.0 L1586.0 668.0 L1592.0 672.0" stroke-width="2.2"/>
<path d="M1640.0 660.0 L1646.0 668.0 L1644.0 676.0 L1638.0 682.0 L1634.0 684.0" stroke-width="2.2"/>
<path d="M1661.0 733.0 L1656.0 744.0 L1646.0 750.0 L1638.0 756.0 L1630.0 764.0 L1620.0 772.0 L1614.0 778.0 L1612.0 782.0" stroke-width="2.0"/>
<path d="M1580.0 784.0 L1612.0 781.6 L1634.0 780.0 L1638.0 777.0 L1656.0 770.0 L1681.0 769.0 L1689.0 776.0 L1708.0 774.4 L1735.0 790.0" stroke-width="1.8"/>
<path d="M1634.0 780.0 L1638.0 788.0 L1648.0 796.0 L1654.0 806.0 L1664.0 816.0 L1674.0 824.0 L1682.0 832.0 L1688.0 840.0 L1694.0 848.0" stroke-width="2.4"/>
<path d="M1586.0 785.6 L1600.0 834.0 L1606.0 856.0 L1605.0 872.0 L1612.0 898.0" stroke-width="1.8"/>
<path d="M1612.0 898.0 L1678.0 894.0 L1679.0 898.0 L1680.0 890.0 L1688.0 889.0 L1690.0 884.0" stroke-width="1.8"/>
<path d="M1580.0 893.0 L1610.0 890.0 L1612.0 898.0" stroke-width="1.8"/>
<path d="M1688.0 896.0 L1689.0 910.0 L1691.0 926.0 L1694.0 930.0" stroke-width="2.8"/>
<path d="M1708.0 834.0 L1700.0 840.0 L1696.0 848.0 L1694.0 860.0 L1691.0 872.0 L1690.0 884.0 L1692.0 896.0 L1696.0 906.0 L1700.0 916.0 L1708.0 926.0 L1716.0 936.0 L1720.0 944.0 L1724.0 956.0 L1732.0 968.0 L1738.0 980.0" stroke-width="3.2"/>
<path d="M1788.0 718.0 L1796.0 728.0 L1799.0 736.0 L1798.0 744.0 L1792.0 750.0 L1786.0 756.0 L1782.0 764.0" stroke-width="1.8"/>
<path d="M1788.0 660.0 L1790.0 672.0 L1786.0 684.0 L1782.0 696.0 L1780.0 710.0 L1784.0 720.0 L1788.0 728.0 L1780.0 736.0 L1772.0 740.0 L1780.0 746.0 L1772.0 754.0 L1778.0 762.0 L1768.0 764.0 L1760.0 768.0 L1756.0 776.0 L1754.0 784.0 L1752.0 790.0 L1740.0 794.0 L1732.0 804.0 L1730.0 814.0 L1724.0 820.0 L1716.0 826.0 L1708.0 834.0 L1700.0 840.0 L1696.0 848.0 L1694.0 860.0 L1691.0 872.0 L1690.0 884.0 L1692.0 896.0 L1696.0 906.0 L1700.0 916.0 L1708.0 926.0 L1716.0 936.0 L1720.0 944.0 L1724.0 956.0 L1732.0 968.0 L1738.0 980.0" stroke-width="2.3"/>
<path d="M1674.0 980.0 L1670.0 968.0 L1668.0 958.0 L1672.0 948.0 L1668.0 940.0 L1660.0 934.0 L1652.0 928.0 L1644.0 918.0 L1634.0 914.0 L1626.0 916.0 L1620.0 924.0 L1612.0 928.0 L1604.0 926.0 L1600.0 918.0 L1592.0 914.0 L1586.0 910.0 L1580.0 911.0" stroke-width="2.3"/>
<path d="M1756.0 660.0 L1773.0 660.0 L1775.0 672.0 L1777.0 684.0 L1779.0 696.0 L1777.0 703.0 L1772.0 700.0 L1767.0 690.0 L1763.0 680.0 L1759.0 670.0 Z" fill="#000" stroke-width="0.8"/>
<path d="M1744.0 666.0 L1756.0 670.0 L1752.0 673.0 Z" fill="#000" stroke-width="0.8"/>
<path d="M1750.0 682.0 L1762.0 684.0 L1756.0 688.0 Z" fill="#000" stroke-width="0.8"/>
<path d="M1750.0 696.0 L1764.0 695.0 L1760.0 700.0 Z" fill="#000" stroke-width="0.8"/>
<path d="M1756.0 706.0 L1770.0 703.0 L1777.0 706.0 L1768.0 710.0 Z" fill="#000" stroke-width="0.8"/>
<path d="M1766.0 720.0 L1776.0 718.0 L1782.0 726.0 L1778.0 732.0 L1770.0 728.0 Z" fill="#000" stroke-width="0.8"/>
<path d="M1764.0 742.0 L1774.0 740.0 L1780.0 746.0 L1772.0 750.0 Z" fill="#000" stroke-width="0.8"/>
<path d="M1766.0 754.0 L1778.0 756.0 L1782.0 764.0 L1772.0 762.0 Z" fill="#000" stroke-width="0.8"/>
<path d="M1696.0 838.0 L1708.0 832.0 L1704.0 840.0 L1698.0 848.0 L1695.0 846.0 Z" fill="#000" stroke-width="0.8"/>
<path d="M1668.0 958.0 L1674.0 962.0 L1680.0 968.0 L1678.0 980.0 L1674.0 980.0 L1670.0 968.0 Z" fill="#000" stroke-width="0.8"/>
<path d="M1600.0 918.0 L1604.0 920.0 L1612.0 924.0 L1618.0 922.0 L1613.0 928.4 L1604.0 927.0 Z" fill="#000" stroke-width="0.8"/>
<path d="M1728.0 806.0 L1732.0 804.0 L1731.0 814.0 L1728.0 816.0 Z" fill="#000" stroke-width="0.8"/>
</g>
<g clip-path="url(#cT32)" fill="none" stroke="#000" stroke-linejoin="round" stroke-linecap="round">
<path d="M1341.2 979.2 L1334.5 984.7 L1329.2 989.2 L1326.2 994.5 L1324.7 1002.0 L1322.5 1011.0 L1324.7 1020.0 L1327.7 1026.0 L1329.7 1032.0 L1330.0 1038.0" stroke-width="3.6"/>
<path d="M1340.0 979.9 L1333.0 985.5 L1327.7 990.0 L1324.7 994.5 L1323.2 1002.0 L1321.0 1011.0 L1323.2 1020.0 L1326.2 1026.0 L1328.5 1032.0 L1329.2 1038.0 L1324.0 1041.7" stroke-width="2.3"/>
<path d="M1324.0 1041.7 L1315.0 1036.5 L1303.0 1033.5 L1294.0 1030.5 L1283.5 1026.0 L1279.0 1020.0 L1276.0 1011.0 L1273.0 999.0 L1270.0 993.0 L1264.0 985.5 L1258.0 979.9" stroke-width="2.3"/>
</g>
<g clip-path="url(#cT33)" fill="none" stroke="#000" stroke-linejoin="round" stroke-linecap="round">
<path d="M1737.9 979.9 L1741.2 987.0 L1742.7 997.5 L1743.5 1008.0 L1744.2 1017.0 L1742.0 1026.0 L1737.5 1030.5" stroke-width="3.0"/>
<path d="M1737.9 979.9 L1741.2 987.0 L1742.7 997.5 L1743.5 1008.0 L1744.2 1017.0 L1742.0 1026.0 L1737.5 1030.5 L1733.0 1032.7" stroke-width="2.3"/>
<path d="M1733.0 1032.7 L1727.7 1032.0 L1721.0 1031.2 L1718.7 1026.0 L1715.0 1020.0 L1709.0 1015.5 L1703.0 1012.5 L1700.0 1005.0 L1695.5 999.0 L1691.0 996.0 L1685.0 988.5 L1679.0 982.5 L1674.0 979.9" stroke-width="2.3"/>
<path d="M1668.5 963.0 L1676.0 966.0 L1680.5 975.0 L1685.0 985.5 L1691.0 987.0 L1695.5 996.0 L1698.5 994.5 L1700.0 1005.0 L1695.5 1000.5 L1691.0 997.5 L1685.0 990.0 L1679.0 983.2 L1673.0 975.0 Z" fill="#000" stroke-width="0.8"/>
<path d="M1718.7 1026.0 L1724.0 1027.5 L1730.0 1030.5 L1733.0 1032.7 L1727.7 1033.5 L1721.0 1032.0 Z" fill="#000" stroke-width="0.8"/>
<path d="M1723.2 1041.7 L1730.0 1038.0 L1736.0 1030.5 L1737.5 1032.0 L1731.5 1040.2 L1724.7 1043.7 Z" fill="#000" stroke-width="0.8"/>
<path d="M1697.0 1049.2 L1704.5 1046.2 L1715.0 1041.7 L1719.5 1043.2 L1715.0 1047.0 L1704.5 1050.0 L1698.5 1051.5 Z" fill="#000" stroke-width="0.8"/>
<path d="M1678.2 1050.0 L1682.0 1050.0 L1682.0 1053.0 L1678.2 1053.0 Z" fill="#000" stroke-width="0.8"/>
</g>
</g>
<g id="chart">
<line x1="759.4" y1="1201.3" x2="1979.5" y2="1201.3" stroke="#e3e3e6" stroke-width="1"/>
<line x1="759.4" y1="1243.4" x2="1979.5" y2="1243.4" stroke="#e3e3e6" stroke-width="1"/>
<line x1="759.4" y1="1285.4" x2="1979.5" y2="1285.4" stroke="#e3e3e6" stroke-width="1"/>
<line x1="759.4" y1="1327.5" x2="1979.5" y2="1327.5" stroke="#e3e3e6" stroke-width="1"/>
<line x1="759.4" y1="1369.5" x2="1979.5" y2="1369.5" stroke="#e3e3e6" stroke-width="1"/>
<line x1="759.4" y1="1411.6" x2="1979.5" y2="1411.6" stroke="#e3e3e6" stroke-width="1"/>
<path d="M765.2 1411.6 L765.2 1360.6 L773.2 1362.2 L780.4 1355.3 L787.6 1360.1 L794.0 1362.8 L802.0 1360.1 L810.0 1358.5 L816.4 1358.0 L821.2 1356.9 L827.6 1351.3 L834.0 1341.7 L838.8 1336.6 L843.6 1337.7 L850.0 1328.9 L853.2 1320.1 L859.6 1316.1 L866.0 1304.9 L871.6 1294.5 L874.8 1293.7 L882.0 1299.8 L888.4 1291.3 L891.6 1289.7 L898.0 1290.8 L904.4 1288.1 L909.2 1280.9 L914.0 1276.9 L919.6 1272.6 L925.2 1278.5 L930.0 1276.1 L938.0 1269.7 L946.0 1269.2 L954.0 1270.2 L958.8 1280.1 L965.2 1278.5 L971.6 1278.0 L978.0 1276.1 L986.0 1278.5 L992.4 1272.1 L1000.0 1277.2 L1008.0 1277.2 L1014.4 1274.8 L1019.2 1268.4 L1025.6 1282.0 L1033.6 1282.8 L1040.0 1282.8 L1048.0 1285.2 L1056.0 1291.6 L1064.0 1298.0 L1067.2 1298.5 L1073.6 1294.0 L1076.8 1294.0 L1083.2 1294.8 L1088.8 1295.6 L1096.0 1282.0 L1100.8 1279.9 L1108.8 1281.2 L1114.4 1277.2 L1121.6 1278.8 L1128.0 1274.8 L1132.8 1265.2 L1137.6 1257.2 L1140.8 1255.6 L1144.0 1258.0 L1147.2 1256.4 L1152.0 1259.6 L1157.6 1261.2 L1163.2 1260.4 L1169.6 1259.6 L1176.0 1257.2 L1180.8 1255.3 L1185.6 1253.7 L1190.4 1258.0 L1195.2 1264.4 L1200.0 1267.6 L1206.4 1273.2 L1212.8 1277.2 L1220.8 1280.4 L1227.2 1287.6 L1232.0 1289.2 L1236.0 1290.5 L1240.0 1274.8 L1243.2 1266.0 L1247.2 1264.4 L1252.8 1267.6 L1259.2 1269.2 L1265.6 1272.4 L1272.0 1275.6 L1280.0 1277.2 L1286.4 1266.8 L1291.2 1251.6 L1297.6 1238.8 L1304.0 1234.0 L1308.8 1231.9 L1310.0 1231.9 L1316.4 1238.0 L1324.4 1244.4 L1332.4 1250.8 L1338.8 1258.8 L1345.2 1271.6 L1353.2 1278.8 L1361.2 1286.0 L1369.2 1294.0 L1377.2 1299.6 L1385.2 1302.0 L1393.2 1311.6 L1399.6 1314.5 L1407.6 1316.4 L1412.4 1324.4 L1415.6 1326.0 L1418.8 1307.6 L1422.0 1298.0 L1430.0 1294.8 L1434.8 1299.6 L1441.2 1308.4 L1446.0 1306.8 L1452.4 1303.3 L1458.8 1304.9 L1463.6 1305.5 L1470.0 1303.9 L1476.4 1296.4 L1478.8 1294.0 L1486.0 1288.4 L1489.2 1287.3 L1495.6 1290.0 L1500.4 1296.9 L1506.8 1294.8 L1513.2 1294.0 L1519.6 1294.8 L1526.0 1295.6 L1533.2 1296.4 L1538.8 1300.4 L1544.4 1306.8 L1550.0 1319.6 L1555.6 1327.6 L1559.6 1320.4 L1562.8 1313.2 L1566.0 1311.9 L1572.4 1318.0 L1578.8 1324.4 L1585.2 1330.0 L1591.6 1330.8 L1598.0 1335.6 L1606.0 1352.4 L1612.4 1356.4 L1617.2 1350.8 L1620.0 1329.2 L1624.8 1316.4 L1629.6 1311.9 L1636.0 1306.8 L1640.8 1309.2 L1647.2 1302.0 L1652.0 1299.6 L1657.6 1278.0 L1663.2 1270.0 L1668.0 1263.6 L1672.0 1258.8 L1676.0 1260.4 L1680.0 1253.2 L1685.6 1246.8 L1689.6 1236.4 L1691.7 1228.4 L1695.2 1227.1 L1700.0 1241.2 L1704.8 1254.0 L1709.6 1259.6 L1713.6 1258.5 L1717.6 1263.6 L1722.4 1266.8 L1727.2 1274.8 L1732.0 1280.9 L1738.4 1277.2 L1743.2 1265.2 L1747.2 1262.8 L1750.4 1269.2 L1756.0 1271.6 L1764.0 1271.3 L1770.4 1271.6 L1776.0 1288.4 L1781.6 1288.9 L1788.0 1294.0 L1794.4 1296.4 L1800.8 1303.6 L1806.4 1308.4 L1812.0 1313.2 L1817.6 1308.1 L1824.8 1311.6 L1831.2 1315.6 L1837.6 1317.2 L1842.4 1308.4 L1848.8 1302.0 L1853.6 1289.2 L1860.0 1272.4 L1866.4 1265.2 L1871.2 1258.0 L1875.2 1255.6 L1880.8 1262.8 L1885.6 1268.4 L1892.0 1266.5 L1898.4 1270.0 L1904.0 1271.9 L1909.6 1268.4 L1916.0 1264.4 L1919.2 1263.9 L1923.2 1268.4 L1927.2 1266.5 L1931.2 1267.6 L1936.0 1260.4 L1941.1 1256.9 L1941.1 1411.6 Z" fill="#ffff00"/>
<path d="M765.2 1411.6 L765.2 1388.1 L773.2 1388.9 L780.4 1388.9 L787.6 1389.7 L794.0 1391.0 L802.0 1385.7 L810.0 1385.7 L816.4 1380.9 L821.2 1380.9 L827.6 1380.1 L834.0 1376.9 L838.8 1372.9 L843.6 1371.3 L850.0 1365.7 L853.2 1362.5 L859.6 1357.7 L866.0 1356.1 L871.6 1347.3 L874.8 1344.1 L882.0 1340.1 L888.4 1331.3 L891.6 1328.9 L898.0 1329.7 L904.4 1326.5 L909.2 1320.1 L914.0 1313.7 L919.6 1312.1 L925.2 1316.1 L930.0 1314.5 L938.0 1309.4 L946.0 1308.4 L954.0 1307.3 L958.8 1314.5 L965.2 1316.9 L971.6 1315.3 L978.0 1315.3 L986.0 1314.5 L992.4 1313.7 L1000.0 1319.6 L1008.0 1317.2 L1014.4 1314.0 L1019.2 1311.3 L1025.6 1315.6 L1033.6 1319.9 L1040.0 1316.4 L1048.0 1312.9 L1056.0 1313.2 L1064.0 1314.0 L1067.2 1314.0 L1073.6 1313.2 L1076.8 1312.9 L1083.2 1314.0 L1088.8 1315.6 L1096.0 1314.0 L1100.8 1312.4 L1108.8 1312.9 L1114.4 1311.9 L1121.6 1309.2 L1128.0 1307.6 L1132.8 1301.2 L1137.6 1295.9 L1140.8 1295.6 L1144.0 1295.6 L1147.2 1295.9 L1152.0 1295.9 L1157.6 1295.9 L1163.2 1295.6 L1169.6 1294.8 L1176.0 1291.6 L1180.8 1287.6 L1185.6 1283.1 L1190.4 1288.4 L1195.2 1290.0 L1200.0 1291.1 L1206.4 1294.0 L1212.8 1298.0 L1220.8 1302.0 L1227.2 1307.6 L1232.0 1312.4 L1236.0 1317.7 L1240.0 1314.0 L1243.2 1309.2 L1247.2 1306.0 L1252.8 1303.3 L1259.2 1302.8 L1265.6 1306.8 L1272.0 1312.4 L1280.0 1318.8 L1286.4 1313.2 L1291.2 1302.0 L1297.6 1291.6 L1304.0 1281.2 L1308.8 1280.4 L1310.0 1281.2 L1316.4 1289.2 L1324.4 1296.4 L1332.4 1303.6 L1338.8 1310.0 L1345.2 1318.0 L1353.2 1321.2 L1361.2 1323.6 L1369.2 1327.6 L1377.2 1334.8 L1385.2 1343.6 L1393.2 1354.8 L1399.6 1357.7 L1407.6 1362.0 L1412.4 1368.4 L1415.6 1371.6 L1418.8 1371.6 L1422.0 1367.6 L1430.0 1355.6 L1434.8 1354.8 L1441.2 1355.6 L1446.0 1356.4 L1452.4 1350.8 L1458.8 1346.0 L1463.6 1342.0 L1470.0 1336.4 L1476.4 1332.4 L1478.8 1331.6 L1486.0 1328.4 L1489.2 1327.9 L1495.6 1329.2 L1500.4 1334.0 L1506.8 1333.2 L1513.2 1334.8 L1519.6 1339.6 L1526.0 1342.0 L1533.2 1342.8 L1538.8 1348.4 L1544.4 1356.4 L1550.0 1365.2 L1555.6 1370.8 L1559.6 1368.4 L1562.8 1366.8 L1566.0 1366.0 L1572.4 1367.6 L1578.8 1373.2 L1585.2 1374.8 L1591.6 1374.0 L1598.0 1376.4 L1606.0 1384.4 L1612.4 1386.0 L1617.2 1386.5 L1620.0 1386.0 L1624.8 1377.2 L1629.6 1372.4 L1636.0 1369.2 L1640.8 1370.0 L1647.2 1366.8 L1652.0 1363.6 L1657.6 1356.4 L1663.2 1346.0 L1668.0 1338.0 L1672.0 1339.6 L1676.0 1343.6 L1680.0 1326.0 L1685.6 1311.6 L1689.6 1302.0 L1691.7 1298.8 L1695.2 1302.0 L1700.0 1311.6 L1704.8 1322.0 L1709.6 1321.2 L1713.6 1319.9 L1717.6 1328.4 L1722.4 1330.8 L1727.2 1333.2 L1732.0 1334.0 L1738.4 1329.2 L1743.2 1322.8 L1747.2 1321.2 L1750.4 1326.8 L1756.0 1320.4 L1764.0 1318.8 L1770.4 1318.8 L1776.0 1330.0 L1781.6 1330.0 L1788.0 1334.8 L1794.4 1341.2 L1800.8 1346.0 L1806.4 1349.2 L1812.0 1348.4 L1817.6 1346.0 L1824.8 1346.0 L1831.2 1346.0 L1837.6 1348.4 L1842.4 1347.6 L1848.8 1342.0 L1853.6 1338.0 L1860.0 1326.0 L1866.4 1320.4 L1871.2 1318.0 L1875.2 1316.4 L1880.8 1318.8 L1885.6 1319.6 L1892.0 1317.2 L1898.4 1323.6 L1904.0 1326.3 L1909.6 1325.2 L1916.0 1321.2 L1919.2 1318.8 L1923.2 1321.2 L1927.2 1319.6 L1931.2 1320.4 L1936.0 1315.6 L1941.1 1311.9 L1941.1 1411.6 Z" fill="#fcd37f"/>
<path d="M765.2 1411.6 L765.2 1403.8 L773.2 1404.9 L780.4 1406.0 L787.6 1406.5 L794.0 1406.8 L802.0 1406.0 L810.0 1405.7 L816.4 1405.4 L821.2 1401.7 L827.6 1398.5 L834.0 1396.9 L838.8 1396.1 L843.6 1396.1 L850.0 1393.7 L853.2 1391.6 L859.6 1389.7 L866.0 1388.1 L871.6 1385.7 L874.8 1383.3 L882.0 1377.7 L888.4 1364.1 L891.6 1360.1 L898.0 1358.5 L904.4 1356.1 L909.2 1352.1 L914.0 1348.9 L919.6 1348.4 L925.2 1349.7 L930.0 1347.3 L938.0 1344.1 L946.0 1340.9 L954.0 1339.3 L958.8 1342.0 L965.2 1343.3 L971.6 1343.6 L978.0 1345.7 L986.0 1346.5 L992.4 1345.7 L1000.0 1349.2 L1008.0 1346.0 L1014.4 1344.4 L1019.2 1343.9 L1025.6 1345.5 L1033.6 1348.4 L1040.0 1344.4 L1048.0 1338.8 L1056.0 1334.0 L1064.0 1330.8 L1067.2 1330.0 L1073.6 1329.5 L1076.8 1330.5 L1083.2 1334.0 L1088.8 1336.4 L1096.0 1335.9 L1100.8 1334.8 L1108.8 1338.8 L1114.4 1340.7 L1121.6 1342.8 L1128.0 1343.3 L1132.8 1338.0 L1137.6 1334.0 L1140.8 1334.0 L1144.0 1334.8 L1147.2 1336.4 L1152.0 1337.5 L1157.6 1336.9 L1163.2 1335.3 L1169.6 1335.9 L1176.0 1334.8 L1180.8 1326.0 L1185.6 1322.8 L1190.4 1325.7 L1195.2 1324.1 L1200.0 1320.9 L1206.4 1321.5 L1212.8 1326.0 L1220.8 1327.6 L1227.2 1333.2 L1232.0 1338.8 L1236.0 1342.8 L1240.0 1342.8 L1243.2 1343.3 L1247.2 1343.3 L1252.8 1335.6 L1259.2 1333.2 L1265.6 1337.2 L1272.0 1343.6 L1280.0 1350.0 L1286.4 1348.7 L1291.2 1346.0 L1297.6 1342.0 L1304.0 1338.0 L1308.8 1335.6 L1310.0 1335.6 L1316.4 1342.8 L1324.4 1346.0 L1332.4 1351.6 L1338.8 1355.6 L1345.2 1362.0 L1353.2 1366.0 L1361.2 1370.8 L1369.2 1374.0 L1377.2 1378.0 L1385.2 1381.2 L1393.2 1384.4 L1399.6 1386.0 L1407.6 1388.1 L1412.4 1392.4 L1415.6 1394.0 L1418.8 1395.6 L1422.0 1396.7 L1430.0 1396.4 L1434.8 1392.9 L1441.2 1392.4 L1446.0 1393.5 L1452.4 1390.0 L1458.8 1386.0 L1463.6 1374.0 L1470.0 1366.8 L1476.4 1362.8 L1478.8 1362.5 L1486.0 1363.6 L1489.2 1363.6 L1495.6 1362.8 L1500.4 1366.8 L1506.8 1366.0 L1513.2 1367.6 L1519.6 1371.6 L1526.0 1374.0 L1533.2 1376.9 L1538.8 1381.2 L1544.4 1386.0 L1550.0 1392.4 L1555.6 1396.4 L1559.6 1396.4 L1562.8 1396.1 L1566.0 1395.6 L1572.4 1396.7 L1578.8 1398.8 L1585.2 1399.6 L1591.6 1398.8 L1598.0 1400.4 L1606.0 1402.8 L1612.4 1404.1 L1617.2 1404.7 L1620.0 1405.2 L1624.8 1405.2 L1629.6 1402.0 L1636.0 1397.7 L1640.8 1398.8 L1647.2 1398.8 L1652.0 1397.7 L1657.6 1393.5 L1663.2 1392.4 L1668.0 1389.7 L1672.0 1389.2 L1676.0 1390.8 L1680.0 1380.4 L1685.6 1370.8 L1689.6 1363.6 L1691.7 1354.5 L1695.2 1364.4 L1700.0 1370.0 L1704.8 1375.6 L1709.6 1377.2 L1713.6 1378.5 L1717.6 1379.6 L1722.4 1380.1 L1727.2 1380.7 L1732.0 1378.0 L1738.4 1376.4 L1743.2 1374.8 L1747.2 1373.2 L1750.4 1375.3 L1756.0 1372.4 L1764.0 1369.2 L1770.4 1367.3 L1776.0 1370.5 L1781.6 1368.9 L1788.0 1371.6 L1794.4 1374.0 L1800.8 1375.6 L1806.4 1378.8 L1812.0 1380.4 L1817.6 1378.8 L1824.8 1377.2 L1831.2 1374.8 L1837.6 1373.7 L1842.4 1372.4 L1848.8 1369.5 L1853.6 1367.3 L1860.0 1363.1 L1866.4 1362.5 L1871.2 1362.5 L1875.2 1364.1 L1880.8 1367.6 L1885.6 1368.9 L1892.0 1370.5 L1898.4 1375.6 L1904.0 1379.6 L1909.6 1382.0 L1916.0 1381.2 L1919.2 1378.0 L1923.2 1374.0 L1927.2 1372.1 L1931.2 1371.6 L1936.0 1368.4 L1941.1 1365.7 L1941.1 1411.6 Z" fill="#ffaa00"/>
<path d="M765.2 1411.6 L765.2 1411.6 L773.2 1411.6 L780.4 1411.6 L787.6 1411.6 L794.0 1411.3 L802.0 1410.5 L810.0 1410.8 L816.4 1411.0 L821.2 1411.0 L827.6 1410.5 L834.0 1409.2 L838.8 1408.9 L843.6 1408.9 L850.0 1407.6 L853.2 1407.0 L859.6 1406.5 L866.0 1406.0 L871.6 1405.7 L874.8 1405.4 L882.0 1403.8 L888.4 1397.7 L891.6 1394.5 L898.0 1387.3 L904.4 1385.7 L909.2 1379.3 L914.0 1376.1 L919.6 1373.4 L925.2 1374.0 L930.0 1372.1 L938.0 1367.6 L946.0 1365.7 L954.0 1364.6 L958.8 1366.5 L965.2 1366.8 L971.6 1367.3 L978.0 1369.7 L986.0 1372.1 L992.4 1372.9 L1000.0 1372.4 L1008.0 1368.4 L1014.4 1366.8 L1019.2 1365.2 L1025.6 1364.7 L1033.6 1366.8 L1040.0 1367.3 L1048.0 1366.0 L1056.0 1362.8 L1064.0 1358.0 L1067.2 1357.2 L1073.6 1355.6 L1076.8 1354.5 L1083.2 1358.8 L1088.8 1361.2 L1096.0 1363.6 L1100.8 1363.1 L1108.8 1366.8 L1114.4 1371.6 L1121.6 1374.8 L1128.0 1375.6 L1132.8 1374.8 L1137.6 1374.5 L1140.8 1374.3 L1144.0 1376.4 L1147.2 1381.2 L1152.0 1385.2 L1157.6 1388.1 L1163.2 1386.0 L1169.6 1388.1 L1176.0 1386.0 L1180.8 1382.8 L1185.6 1378.0 L1190.4 1376.4 L1195.2 1375.6 L1200.0 1372.4 L1206.4 1369.5 L1212.8 1372.4 L1220.8 1366.3 L1227.2 1369.2 L1232.0 1370.8 L1236.0 1371.1 L1240.0 1372.4 L1243.2 1374.0 L1247.2 1374.8 L1252.8 1373.2 L1259.2 1370.8 L1265.6 1374.0 L1272.0 1381.2 L1280.0 1388.1 L1286.4 1387.6 L1291.2 1384.4 L1297.6 1381.2 L1304.0 1380.7 L1308.8 1381.2 L1310.0 1381.2 L1316.4 1381.7 L1324.4 1384.4 L1332.4 1388.4 L1338.8 1390.8 L1345.2 1394.5 L1353.2 1396.7 L1361.2 1398.8 L1369.2 1399.9 L1377.2 1400.9 L1385.2 1401.2 L1393.2 1400.4 L1399.6 1399.3 L1407.6 1399.3 L1412.4 1402.5 L1415.6 1404.4 L1418.8 1405.2 L1422.0 1406.3 L1430.0 1406.8 L1434.8 1406.3 L1441.2 1406.3 L1446.0 1406.8 L1452.4 1406.8 L1458.8 1406.0 L1463.6 1399.6 L1470.0 1394.0 L1476.4 1390.0 L1478.8 1388.1 L1486.0 1391.3 L1489.2 1392.4 L1495.6 1393.5 L1500.4 1394.8 L1506.8 1393.2 L1513.2 1394.8 L1519.6 1397.7 L1526.0 1398.8 L1533.2 1398.8 L1538.8 1400.9 L1544.4 1403.1 L1550.0 1407.3 L1555.6 1408.4 L1559.6 1408.9 L1562.8 1408.9 L1566.0 1408.9 L1572.4 1409.2 L1578.8 1409.8 L1585.2 1410.2 L1591.6 1410.5 L1598.0 1410.5 L1606.0 1410.8 L1612.4 1410.8 L1617.2 1410.8 L1620.0 1410.8 L1624.8 1410.5 L1629.6 1410.0 L1636.0 1408.4 L1640.8 1408.9 L1647.2 1408.9 L1652.0 1408.4 L1657.6 1406.8 L1663.2 1406.3 L1668.0 1406.0 L1672.0 1405.2 L1676.0 1405.2 L1680.0 1402.8 L1685.6 1400.9 L1689.6 1399.3 L1691.7 1398.0 L1695.2 1400.9 L1700.0 1401.5 L1704.8 1401.2 L1709.6 1401.5 L1713.6 1401.7 L1717.6 1402.0 L1722.4 1402.0 L1727.2 1401.5 L1732.0 1401.2 L1738.4 1399.9 L1743.2 1397.2 L1747.2 1396.7 L1750.4 1397.2 L1756.0 1396.9 L1764.0 1395.1 L1770.4 1394.5 L1776.0 1394.0 L1781.6 1393.2 L1788.0 1392.4 L1794.4 1393.5 L1800.8 1395.6 L1806.4 1398.0 L1812.0 1399.3 L1817.6 1399.3 L1824.8 1399.6 L1831.2 1399.9 L1837.6 1399.3 L1842.4 1398.8 L1848.8 1397.2 L1853.6 1397.7 L1860.0 1398.3 L1866.4 1399.3 L1871.2 1399.3 L1875.2 1400.4 L1880.8 1402.0 L1885.6 1403.1 L1892.0 1404.4 L1898.4 1406.3 L1904.0 1407.6 L1909.6 1407.9 L1916.0 1407.9 L1919.2 1407.6 L1923.2 1406.8 L1927.2 1406.0 L1931.2 1405.7 L1936.0 1402.8 L1941.1 1399.9 L1941.1 1411.6 Z" fill="#e60000"/>
<path d="M765.2 1411.6 L765.2 1411.6 L773.2 1411.6 L780.4 1411.6 L787.6 1411.6 L794.0 1411.6 L802.0 1411.6 L810.0 1411.6 L816.4 1411.6 L821.2 1411.6 L827.6 1411.6 L834.0 1411.6 L838.8 1411.6 L843.6 1411.6 L850.0 1411.6 L853.2 1411.6 L859.6 1411.6 L866.0 1411.6 L871.6 1411.6 L874.8 1411.6 L882.0 1411.6 L888.4 1411.6 L891.6 1411.6 L898.0 1411.6 L904.4 1411.6 L909.2 1408.9 L914.0 1407.0 L919.6 1405.7 L925.2 1405.2 L930.0 1402.5 L938.0 1392.9 L946.0 1390.5 L954.0 1390.5 L958.8 1391.3 L965.2 1392.1 L971.6 1392.9 L978.0 1393.7 L986.0 1393.7 L992.4 1393.2 L1000.0 1393.5 L1008.0 1393.2 L1014.4 1392.4 L1019.2 1391.9 L1025.6 1391.6 L1033.6 1390.3 L1040.0 1391.3 L1048.0 1391.6 L1056.0 1391.3 L1064.0 1391.6 L1067.2 1392.9 L1073.6 1392.9 L1076.8 1392.9 L1083.2 1394.8 L1088.8 1395.6 L1096.0 1396.4 L1100.8 1396.7 L1108.8 1397.7 L1114.4 1399.3 L1121.6 1399.9 L1128.0 1400.4 L1132.8 1400.9 L1137.6 1401.2 L1140.8 1402.0 L1144.0 1404.4 L1147.2 1407.6 L1152.0 1408.9 L1157.6 1409.5 L1163.2 1409.5 L1169.6 1410.0 L1176.0 1410.0 L1180.8 1409.2 L1185.6 1407.9 L1190.4 1407.9 L1195.2 1407.6 L1200.0 1406.8 L1206.4 1405.2 L1212.8 1402.8 L1220.8 1399.3 L1227.2 1399.6 L1232.0 1399.9 L1236.0 1400.4 L1240.0 1400.4 L1243.2 1403.1 L1247.2 1402.5 L1252.8 1402.0 L1259.2 1402.5 L1265.6 1403.6 L1272.0 1406.0 L1280.0 1407.9 L1286.4 1407.3 L1291.2 1406.0 L1297.6 1405.7 L1304.0 1405.5 L1308.8 1405.5 L1310.0 1405.5 L1316.4 1405.7 L1324.4 1406.0 L1332.4 1406.8 L1338.8 1407.6 L1345.2 1408.4 L1353.2 1408.4 L1361.2 1408.4 L1369.2 1408.4 L1377.2 1408.4 L1385.2 1407.9 L1393.2 1407.3 L1399.6 1407.0 L1407.6 1407.6 L1412.4 1408.9 L1415.6 1409.5 L1418.8 1410.0 L1422.0 1410.5 L1430.0 1410.8 L1434.8 1410.8 L1441.2 1410.8 L1446.0 1410.8 L1452.4 1411.1 L1458.8 1411.1 L1463.6 1409.5 L1470.0 1407.6 L1476.4 1406.0 L1478.8 1405.5 L1486.0 1405.7 L1489.2 1406.0 L1495.6 1406.3 L1500.4 1406.8 L1506.8 1405.7 L1513.2 1406.3 L1519.6 1409.2 L1526.0 1409.5 L1533.2 1410.0 L1538.8 1410.5 L1544.4 1410.8 L1550.0 1411.1 L1555.6 1411.3 L1559.6 1411.3 L1562.8 1411.3 L1566.0 1411.4 L1572.4 1411.4 L1578.8 1411.6 L1585.2 1411.6 L1591.6 1411.6 L1598.0 1411.6 L1606.0 1411.6 L1612.4 1411.6 L1617.2 1411.6 L1620.0 1411.6 L1624.8 1411.6 L1629.6 1411.6 L1636.0 1411.6 L1640.8 1411.6 L1647.2 1411.6 L1652.0 1411.6 L1657.6 1411.6 L1663.2 1411.6 L1668.0 1411.6 L1672.0 1411.6 L1676.0 1411.6 L1680.0 1411.6 L1685.6 1411.6 L1689.6 1411.6 L1691.7 1411.6 L1695.2 1411.6 L1700.0 1411.6 L1704.8 1411.6 L1709.6 1411.6 L1713.6 1411.6 L1717.6 1411.6 L1722.4 1411.6 L1727.2 1411.6 L1732.0 1411.6 L1738.4 1411.6 L1743.2 1411.6 L1747.2 1411.6 L1750.4 1411.6 L1756.0 1411.6 L1764.0 1408.9 L1770.4 1407.9 L1776.0 1407.6 L1781.6 1407.3 L1788.0 1407.6 L1794.4 1407.9 L1800.8 1408.4 L1806.4 1409.5 L1812.0 1410.5 L1817.6 1410.8 L1824.8 1411.1 L1831.2 1411.6 L1837.6 1411.6 L1842.4 1411.6 L1848.8 1411.6 L1853.6 1411.6 L1860.0 1411.6 L1866.4 1411.6 L1871.2 1411.6 L1875.2 1411.6 L1880.8 1411.6 L1885.6 1411.6 L1892.0 1411.6 L1898.4 1411.6 L1904.0 1411.6 L1909.6 1411.6 L1916.0 1411.6 L1919.2 1411.6 L1923.2 1411.6 L1927.2 1411.6 L1931.2 1411.6 L1936.0 1411.6 L1941.1 1411.6 L1941.1 1411.6 Z" fill="#730000"/>
<path d="M765.4 1414.6 V1201.3 H1979.5 V1414.6" fill="none" stroke="#dcdcdf" stroke-width="1.6"/>
<line x1="759.4" y1="1411.6" x2="1979.5" y2="1411.6" stroke="#d8d8db" stroke-width="1.2"/>
<text x="753.5" y="1206.3" text-anchor="end" font-family="'Liberation Sans','DejaVu Sans',sans-serif" font-size="14.2" fill="#4a4a4a">100.00%</text>
<text x="753.5" y="1248.4" text-anchor="end" font-family="'Liberation Sans','DejaVu Sans',sans-serif" font-size="14.2" fill="#4a4a4a">80.00%</text>
<text x="753.5" y="1290.4" text-anchor="end" font-family="'Liberation Sans','DejaVu Sans',sans-serif" font-size="14.2" fill="#4a4a4a">60.00%</text>
<text x="753.5" y="1332.5" text-anchor="end" font-family="'Liberation Sans','DejaVu Sans',sans-serif" font-size="14.2" fill="#4a4a4a">40.00%</text>
<text x="753.5" y="1374.5" text-anchor="end" font-family="'Liberation Sans','DejaVu Sans',sans-serif" font-size="14.2" fill="#4a4a4a">20.00%</text>
<text x="753.5" y="1416.6" text-anchor="end" font-family="'Liberation Sans','DejaVu Sans',sans-serif" font-size="14.2" fill="#4a4a4a">0.00%</text>
<line x1="765.4" y1="1411.6" x2="765.4" y2="1415.6" stroke="#d0d0d4" stroke-width="1"/>
<text transform="translate(760.4 1426.4) rotate(70)" font-family="'Liberation Sans','DejaVu Sans',sans-serif" font-size="14.2" fill="#444">1-1-2020</text>
<line x1="829.3" y1="1411.6" x2="829.3" y2="1415.6" stroke="#d0d0d4" stroke-width="1"/>
<text transform="translate(824.3 1426.4) rotate(70)" font-family="'Liberation Sans','DejaVu Sans',sans-serif" font-size="14.2" fill="#444">5-1-2020</text>
<line x1="893.3" y1="1411.6" x2="893.3" y2="1415.6" stroke="#d0d0d4" stroke-width="1"/>
<text transform="translate(888.3 1426.4) rotate(70)" font-family="'Liberation Sans','DejaVu Sans',sans-serif" font-size="14.2" fill="#444">8-31-2020</text>
<line x1="957.2" y1="1411.6" x2="957.2" y2="1415.6" stroke="#d0d0d4" stroke-width="1"/>
<text transform="translate(952.2 1426.4) rotate(70)" font-family="'Liberation Sans','DejaVu Sans',sans-serif" font-size="14.2" fill="#444">12-31-2020</text>
<line x1="1021.2" y1="1411.6" x2="1021.2" y2="1415.6" stroke="#d0d0d4" stroke-width="1"/>
<text transform="translate(1016.2 1426.4) rotate(70)" font-family="'Liberation Sans','DejaVu Sans',sans-serif" font-size="14.2" fill="#444">5-1-2021</text>
<line x1="1085.1" y1="1411.6" x2="1085.1" y2="1415.6" stroke="#d0d0d4" stroke-width="1"/>
<text transform="translate(1080.1 1426.4) rotate(70)" font-family="'Liberation Sans','DejaVu Sans',sans-serif" font-size="14.2" fill="#444">8-31-2021</text>
<line x1="1149.0" y1="1411.6" x2="1149.0" y2="1415.6" stroke="#d0d0d4" stroke-width="1"/>
<text transform="translate(1144.0 1426.4) rotate(70)" font-family="'Liberation Sans','DejaVu Sans',sans-serif" font-size="14.2" fill="#444">12-31-2021</text>
<line x1="1213.0" y1="1411.6" x2="1213.0" y2="1415.6" stroke="#d0d0d4" stroke-width="1"/>
<text transform="translate(1208.0 1426.4) rotate(70)" font-family="'Liberation Sans','DejaVu Sans',sans-serif" font-size="14.2" fill="#444">5-1-2022</text>
<line x1="1276.9" y1="1411.6" x2="1276.9" y2="1415.6" stroke="#d0d0d4" stroke-width="1"/>
<text transform="translate(1271.9 1426.4) rotate(70)" font-family="'Liberation Sans','DejaVu Sans',sans-serif" font-size="14.2" fill="#444">8-31-2022</text>
<line x1="1340.9" y1="1411.6" x2="1340.9" y2="1415.6" stroke="#d0d0d4" stroke-width="1"/>
<text transform="translate(1335.9 1426.4) rotate(70)" font-family="'Liberation Sans','DejaVu Sans',sans-serif" font-size="14.2" fill="#444">12-31-2022</text>
<line x1="1404.8" y1="1411.6" x2="1404.8" y2="1415.6" stroke="#d0d0d4" stroke-width="1"/>
<text transform="translate(1399.8 1426.4) rotate(70)" font-family="'Liberation Sans','DejaVu Sans',sans-serif" font-size="14.2" fill="#444">5-1-2023</text>
<line x1="1468.7" y1="1411.6" x2="1468.7" y2="1415.6" stroke="#d0d0d4" stroke-width="1"/>
<text transform="translate(1463.7 1426.4) rotate(70)" font-family="'Liberation Sans','DejaVu Sans',sans-serif" font-size="14.2" fill="#444">8-31-2023</text>
<line x1="1532.7" y1="1411.6" x2="1532.7" y2="1415.6" stroke="#d0d0d4" stroke-width="1"/>
<text transform="translate(1527.7 1426.4) rotate(70)" font-family="'Liberation Sans','DejaVu Sans',sans-serif" font-size="14.2" fill="#444">12-31-2023</text>
<line x1="1596.6" y1="1411.6" x2="1596.6" y2="1415.6" stroke="#d0d0d4" stroke-width="1"/>
<text transform="translate(1591.6 1426.4) rotate(70)" font-family="'Liberation Sans','DejaVu Sans',sans-serif" font-size="14.2" fill="#444">4-30-2024</text>
<line x1="1660.6" y1="1411.6" x2="1660.6" y2="1415.6" stroke="#d0d0d4" stroke-width="1"/>
<text transform="translate(1655.6 1426.4) rotate(70)" font-family="'Liberation Sans','DejaVu Sans',sans-serif" font-size="14.2" fill="#444">8-30-2024</text>
<line x1="1724.5" y1="1411.6" x2="1724.5" y2="1415.6" stroke="#d0d0d4" stroke-width="1"/>
<text transform="translate(1719.5 1426.4) rotate(70)" font-family="'Liberation Sans','DejaVu Sans',sans-serif" font-size="14.2" fill="#444">12-30-2024</text>
<line x1="1788.4" y1="1411.6" x2="1788.4" y2="1415.6" stroke="#d0d0d4" stroke-width="1"/>
<text transform="translate(1783.4 1426.4) rotate(70)" font-family="'Liberation Sans','DejaVu Sans',sans-serif" font-size="14.2" fill="#444">4-30-2025</text>
<line x1="1852.4" y1="1411.6" x2="1852.4" y2="1415.6" stroke="#d0d0d4" stroke-width="1"/>
<text transform="translate(1847.4 1426.4) rotate(70)" font-family="'Liberation Sans','DejaVu Sans',sans-serif" font-size="14.2" fill="#444">8-30-2025</text>
<line x1="1916.3" y1="1411.6" x2="1916.3" y2="1415.6" stroke="#d0d0d4" stroke-width="1"/>
<text transform="translate(1911.3 1426.4) rotate(70)" font-family="'Liberation Sans','DejaVu Sans',sans-serif" font-size="14.2" fill="#444">12-30-2025</text>
</g>
<defs>
<filter id="dl4" x="-5%" y="-10%" width="110%" height="120%"><feMorphology operator="dilate" radius="4 0.01"/></filter>
<filter id="dl3" x="-5%" y="-10%" width="110%" height="120%"><feMorphology operator="dilate" radius="3 0.01"/></filter>
<filter id="dl2" x="-5%" y="-10%" width="110%" height="120%"><feMorphology operator="dilate" radius="2 0.01"/></filter>
<filter id="dl1" x="-5%" y="-10%" width="110%" height="120%"><feMorphology operator="dilate" radius="1 0.01"/></filter>
</defs>
<text y="210.10" font-family="'Liberation Sans','DejaVu Sans',sans-serif" font-weight="bold" font-size="193.48" fill="#fff" stroke="#fff" stroke-width="5.00" stroke-linejoin="miter" stroke-miterlimit="3" filter="url(#dl4)" xml:space="preserve"><tspan x="92.25" textLength="86.45" lengthAdjust="spacingAndGlyphs">U</tspan><tspan x="218.10" textLength="73.68" lengthAdjust="spacingAndGlyphs">S</tspan><tspan x="325.90" textLength="85.31" lengthAdjust="spacingAndGlyphs">D</tspan><tspan x="448.50" textLength="109.60" lengthAdjust="spacingAndGlyphs">M</tspan></text>
<text y="359.80" font-family="'Liberation Sans','DejaVu Sans',sans-serif" font-weight="bold" font-size="112.53" fill="#fff" stroke="#fff" stroke-width="3.00" stroke-linejoin="miter" stroke-miterlimit="3" filter="url(#dl2)" xml:space="preserve"><tspan x="78.75" textLength="53.93" lengthAdjust="spacingAndGlyphs">H</tspan><tspan x="149.70" textLength="47.88" lengthAdjust="spacingAndGlyphs">O</tspan><tspan x="210.00" textLength="41.40" lengthAdjust="spacingAndGlyphs">T</tspan> <tspan x="299.00" textLength="39.81" lengthAdjust="spacingAndGlyphs">T</tspan><tspan x="352.20" textLength="47.88" lengthAdjust="spacingAndGlyphs">O</tspan><tspan x="417.70" textLength="46.88" lengthAdjust="spacingAndGlyphs">P</tspan><tspan x="481.30" textLength="22.17" lengthAdjust="spacingAndGlyphs">I</tspan><tspan x="521.90" textLength="47.53" lengthAdjust="spacingAndGlyphs">C</tspan></text>
<rect x="74" y="395" width="506.6" height="9.2" fill="#fff"/>
<text y="491.50" font-family="'Liberation Sans','DejaVu Sans',sans-serif" font-weight="normal" font-size="79.37" fill="#fff" xml:space="preserve"><tspan x="93.60" textLength="211.10" lengthAdjust="spacingAndGlyphs">February</tspan> <tspan x="320.00" textLength="81.16" lengthAdjust="spacingAndGlyphs">19,</tspan> <tspan x="412.00" textLength="142.24" lengthAdjust="spacingAndGlyphs">2026</tspan></text>
<text y="231.40" font-family="'Liberation Sans','DejaVu Sans',sans-serif" font-weight="bold" font-size="204.18" fill="#fff" stroke="#fff" stroke-width="5.00" stroke-linejoin="miter" stroke-miterlimit="3" filter="url(#dl4)" xml:space="preserve"><tspan x="825.50" textLength="68.04" lengthAdjust="spacingAndGlyphs">T</tspan><tspan x="908.80" textLength="93.20" lengthAdjust="spacingAndGlyphs">H</tspan><tspan x="1019.80" textLength="65.96" lengthAdjust="spacingAndGlyphs">E</tspan> <tspan x="1145.00" textLength="65.98" lengthAdjust="spacingAndGlyphs">L</tspan><tspan x="1221.60" textLength="88.71" lengthAdjust="spacingAndGlyphs">O</tspan><tspan x="1328.50" textLength="104.70" lengthAdjust="spacingAndGlyphs">W</tspan><tspan x="1455.50" textLength="65.24" lengthAdjust="spacingAndGlyphs">E</tspan><tspan x="1534.10" textLength="87.20" lengthAdjust="spacingAndGlyphs">R</tspan> <tspan x="1688.00" textLength="77.82" lengthAdjust="spacingAndGlyphs">4</tspan><tspan x="1781.20" textLength="77.95" lengthAdjust="spacingAndGlyphs">8</tspan></text>
<text y="1132.80" font-family="'Liberation Sans','DejaVu Sans',sans-serif" font-weight="bold" font-size="58.10" fill="#fff" filter="url(#dl1)" xml:space="preserve"><tspan x="858.50" textLength="107.58" lengthAdjust="spacingAndGlyphs">Lower</tspan> <tspan x="982.00" textLength="46.10" lengthAdjust="spacingAndGlyphs">48</tspan> <tspan x="1044.75" textLength="141.07" lengthAdjust="spacingAndGlyphs">Percent</tspan> <tspan x="1200.50" textLength="80.01" lengthAdjust="spacingAndGlyphs">Area</tspan> <tspan x="1301.00" textLength="31.15" lengthAdjust="spacingAndGlyphs">in</tspan> <tspan x="1345.90" textLength="148.45" lengthAdjust="spacingAndGlyphs">Drought</tspan></text>
<text y="1132.80" font-family="'Liberation Sans','DejaVu Sans',sans-serif" font-weight="normal" font-size="58.10" fill="#fff" xml:space="preserve"><tspan x="1507.90" textLength="114.17" lengthAdjust="spacingAndGlyphs">1-1-20</tspan> <tspan x="1637.70" textLength="30.74" lengthAdjust="spacingAndGlyphs">to</tspan> <tspan x="1679.50" textLength="149.74" lengthAdjust="spacingAndGlyphs">2-19-26</tspan></text>
<text y="1586.00" font-family="'Liberation Sans','DejaVu Sans',sans-serif" font-weight="bold" font-size="57.59" fill="#fff" stroke="#fff" stroke-width="2.00" stroke-linejoin="miter" stroke-miterlimit="3" filter="url(#dl1)" xml:space="preserve"><tspan x="914.10" textLength="77.77" lengthAdjust="spacingAndGlyphs">U.S.</tspan> <tspan x="1007.20" textLength="162.81" lengthAdjust="spacingAndGlyphs">Drought</tspan> <tspan x="1188.10" textLength="158.03" lengthAdjust="spacingAndGlyphs">Monitor</tspan></text>
<text y="1584.80" font-family="'Liberation Sans','DejaVu Sans',sans-serif" font-weight="normal" font-size="52.29" fill="#fff" stroke="#fff" stroke-width="0.50" stroke-linejoin="miter" stroke-miterlimit="3" xml:space="preserve"><tspan x="1397.30" textLength="378.24" lengthAdjust="spacingAndGlyphs">droughtmonitor.unl.edu</tspan></text>
<text font-family="'Liberation Serif','DejaVu Serif',serif" font-size="54.5" fill="#fff" stroke="#fff" stroke-width="0.7" xml:space="preserve"><tspan x="35.00" y="617.60" textLength="479.60" lengthAdjust="spacingAndGlyphs">Dryness or drought</tspan> <tspan x="37.40" y="684.77" textLength="482.80" lengthAdjust="spacingAndGlyphs">worsened across all</tspan> <tspan x="34.00" y="751.94" textLength="580.81" lengthAdjust="spacingAndGlyphs">categories in the Lower</tspan> <tspan x="33.60" y="819.11" textLength="457.00" lengthAdjust="spacingAndGlyphs">48 this week: from</tspan> <tspan x="34.40" y="886.28" textLength="513.62" lengthAdjust="spacingAndGlyphs">72.58% to 73.73% for</tspan> <tspan x="34.00" y="953.45" textLength="515.41" lengthAdjust="spacingAndGlyphs">abnormal dryness or</tspan> <tspan x="37.40" y="1020.62" textLength="577.00" lengthAdjust="spacingAndGlyphs">worse, 46.6% to 48.58%</tspan> <tspan x="35.00" y="1087.79" textLength="600.00" lengthAdjust="spacingAndGlyphs">for moderate drought or</tspan> <tspan x="37.40" y="1154.96" textLength="603.40" lengthAdjust="spacingAndGlyphs">worse, 21.55% to 22.56%</tspan> <tspan x="35.00" y="1222.13" textLength="518.20" lengthAdjust="spacingAndGlyphs">for severe drought or</tspan> <tspan x="37.40" y="1289.30" textLength="548.80" lengthAdjust="spacingAndGlyphs">worse, 4.81% to 5.99%</tspan> <tspan x="35.00" y="1356.47" textLength="500.20" lengthAdjust="spacingAndGlyphs">for extreme drought</tspan> <tspan x="34.00" y="1423.64" textLength="564.03" lengthAdjust="spacingAndGlyphs">or worse, and 0.13% to</tspan> <tspan x="34.00" y="1490.81" textLength="536.21" lengthAdjust="spacingAndGlyphs">0.15% for exceptional</tspan> <tspan x="34.40" y="1557.98" textLength="213.77" lengthAdjust="spacingAndGlyphs">drought.</tspan></text>
</svg>
</body>
</html>
